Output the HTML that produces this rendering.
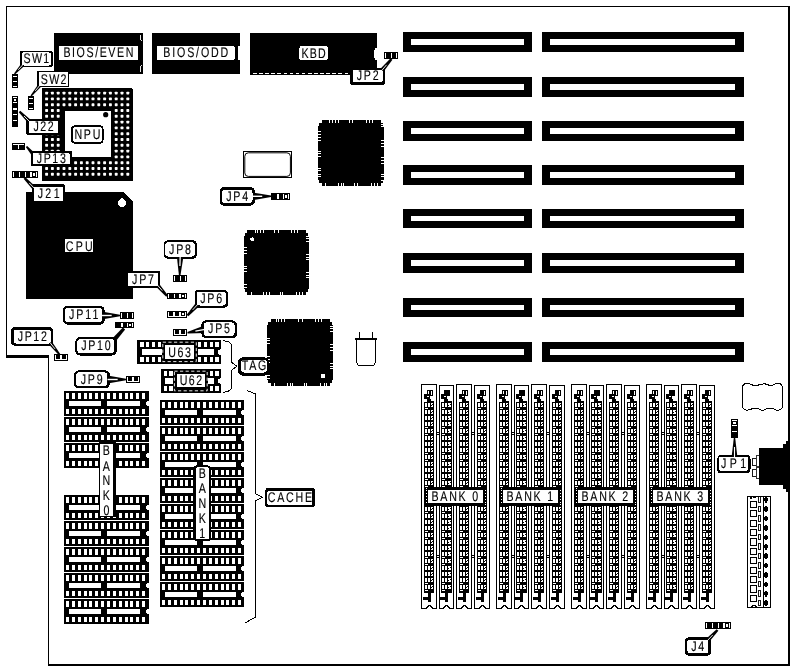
<!DOCTYPE html>
<html><head><meta charset="utf-8"><title>Motherboard layout</title>
<style>
html,body{margin:0;padding:0;background:#fff;}
body{width:795px;height:670px;overflow:hidden;}
svg{display:block;font-family:"Liberation Sans",sans-serif;}
</style></head><body>
<svg width="795" height="670" viewBox="0 0 795 670" shape-rendering="crispEdges" text-rendering="geometricPrecision">
<rect width="795" height="670" fill="#fff"/>
<polygon points="6.5,6.5 789.5,6.5 789.5,664.8 48.5,664.8 48.5,356 6.5,356" fill="none" stroke="#000" stroke-width="1.4"/>
<line x1="789.30" y1="6.00" x2="789.30" y2="665.00" stroke="#000" stroke-width="2" />
<line x1="48.00" y1="664.80" x2="790.00" y2="664.80" stroke="#000" stroke-width="1.8" />
<rect x="6.00" y="355.20" width="43.00" height="2.60" fill="#000" />
<rect x="403.00" y="32.00" width="129.00" height="20.00" fill="#000" />
<rect x="411.00" y="39.00" width="113.00" height="6.00" fill="#fff" />
<rect x="542.00" y="32.00" width="202.00" height="20.00" fill="#000" />
<rect x="550.00" y="39.00" width="185.00" height="6.00" fill="#fff" />
<rect x="403.00" y="77.00" width="129.00" height="20.00" fill="#000" />
<rect x="411.00" y="84.00" width="113.00" height="6.00" fill="#fff" />
<rect x="542.00" y="77.00" width="202.00" height="20.00" fill="#000" />
<rect x="550.00" y="84.00" width="185.00" height="6.00" fill="#fff" />
<rect x="403.00" y="121.00" width="129.00" height="20.00" fill="#000" />
<rect x="411.00" y="128.00" width="113.00" height="6.00" fill="#fff" />
<rect x="542.00" y="121.00" width="202.00" height="20.00" fill="#000" />
<rect x="550.00" y="128.00" width="185.00" height="6.00" fill="#fff" />
<rect x="403.00" y="165.00" width="129.00" height="20.00" fill="#000" />
<rect x="411.00" y="172.00" width="113.00" height="6.00" fill="#fff" />
<rect x="542.00" y="165.00" width="202.00" height="20.00" fill="#000" />
<rect x="550.00" y="172.00" width="185.00" height="6.00" fill="#fff" />
<rect x="403.00" y="209.00" width="129.00" height="19.00" fill="#000" />
<rect x="411.00" y="216.00" width="113.00" height="5.00" fill="#fff" />
<rect x="542.00" y="209.00" width="202.00" height="19.00" fill="#000" />
<rect x="550.00" y="216.00" width="185.00" height="5.00" fill="#fff" />
<rect x="403.00" y="253.00" width="129.00" height="20.00" fill="#000" />
<rect x="411.00" y="260.00" width="113.00" height="6.00" fill="#fff" />
<rect x="542.00" y="253.00" width="202.00" height="20.00" fill="#000" />
<rect x="550.00" y="260.00" width="185.00" height="6.00" fill="#fff" />
<rect x="403.00" y="298.00" width="129.00" height="19.00" fill="#000" />
<rect x="411.00" y="305.00" width="113.00" height="5.00" fill="#fff" />
<rect x="542.00" y="298.00" width="202.00" height="19.00" fill="#000" />
<rect x="550.00" y="305.00" width="185.00" height="5.00" fill="#fff" />
<rect x="403.00" y="342.00" width="129.00" height="20.00" fill="#000" />
<rect x="411.00" y="349.00" width="113.00" height="6.00" fill="#fff" />
<rect x="542.00" y="342.00" width="202.00" height="20.00" fill="#000" />
<rect x="550.00" y="349.00" width="185.00" height="6.00" fill="#fff" />
<rect x="54.00" y="33.00" width="89.00" height="41.00" fill="#000" />
<rect x="58.90" y="46.00" width="79.00" height="14.00" fill="#fff" rx="1.5"/>
<path d="M140.6,35 L140.6,40 L141.6,41 M141.6,64.5 L140.6,65.5 L140.6,72" stroke="#fff" stroke-width="0.9" fill="none"/>
<rect x="152.00" y="33.00" width="88.00" height="41.00" fill="#000" />
<rect x="157.00" y="46.00" width="77.70" height="14.00" fill="#fff" rx="1.5"/>
<rect x="238.00" y="46.00" width="2.10" height="14.00" fill="#fff" />
<rect x="250.00" y="33.00" width="127.00" height="42.00" fill="#000" />
<rect x="253.00" y="73.00" width="3.60" height="1.00" fill="#fff" />
<rect x="259.10" y="73.00" width="3.60" height="1.00" fill="#fff" />
<rect x="265.20" y="73.00" width="3.60" height="1.00" fill="#fff" />
<rect x="271.30" y="73.00" width="3.60" height="1.00" fill="#fff" />
<rect x="277.40" y="73.00" width="3.60" height="1.00" fill="#fff" />
<rect x="283.50" y="73.00" width="3.60" height="1.00" fill="#fff" />
<rect x="289.60" y="73.00" width="3.60" height="1.00" fill="#fff" />
<rect x="295.70" y="73.00" width="3.60" height="1.00" fill="#fff" />
<rect x="301.80" y="73.00" width="3.60" height="1.00" fill="#fff" />
<rect x="307.90" y="73.00" width="3.60" height="1.00" fill="#fff" />
<rect x="314.00" y="73.00" width="3.60" height="1.00" fill="#fff" />
<rect x="320.10" y="73.00" width="3.60" height="1.00" fill="#fff" />
<rect x="326.20" y="73.00" width="3.60" height="1.00" fill="#fff" />
<rect x="332.30" y="73.00" width="3.60" height="1.00" fill="#fff" />
<rect x="338.40" y="73.00" width="3.60" height="1.00" fill="#fff" />
<rect x="344.50" y="73.00" width="3.60" height="1.00" fill="#fff" />
<path d="M377.1,47.5 L375.3,48.5 L374.3,50 L374.3,57.5 L375.3,59.5 L377.1,60.5 Z" fill="#fff"/>
<rect x="299.40" y="46.00" width="28.40" height="14.40" fill="#fff" rx="2.5"/>
<path d="M42.2,88.2 H131 Q133.2,88.2 133.2,90.4 V180.5 H42.2 Z" fill="#000"/>
<rect x="45.15" y="91.65" width="2.9" height="2.9" rx="0.7" fill="#fff" shape-rendering="geometricPrecision"/>
<rect x="50.95" y="91.65" width="2.9" height="2.9" rx="0.7" fill="#fff" shape-rendering="geometricPrecision"/>
<rect x="56.75" y="91.65" width="2.9" height="2.9" rx="0.7" fill="#fff" shape-rendering="geometricPrecision"/>
<rect x="62.55" y="91.65" width="2.9" height="2.9" rx="0.7" fill="#fff" shape-rendering="geometricPrecision"/>
<rect x="68.35" y="91.65" width="2.9" height="2.9" rx="0.7" fill="#fff" shape-rendering="geometricPrecision"/>
<rect x="74.15" y="91.65" width="2.9" height="2.9" rx="0.7" fill="#fff" shape-rendering="geometricPrecision"/>
<rect x="79.95" y="91.65" width="2.9" height="2.9" rx="0.7" fill="#fff" shape-rendering="geometricPrecision"/>
<rect x="85.75" y="91.65" width="2.9" height="2.9" rx="0.7" fill="#fff" shape-rendering="geometricPrecision"/>
<rect x="91.55" y="91.65" width="2.9" height="2.9" rx="0.7" fill="#fff" shape-rendering="geometricPrecision"/>
<rect x="97.35" y="91.65" width="2.9" height="2.9" rx="0.7" fill="#fff" shape-rendering="geometricPrecision"/>
<rect x="103.15" y="91.65" width="2.9" height="2.9" rx="0.7" fill="#fff" shape-rendering="geometricPrecision"/>
<rect x="108.95" y="91.65" width="2.9" height="2.9" rx="0.7" fill="#fff" shape-rendering="geometricPrecision"/>
<rect x="114.75" y="91.65" width="2.9" height="2.9" rx="0.7" fill="#fff" shape-rendering="geometricPrecision"/>
<rect x="120.55" y="91.65" width="2.9" height="2.9" rx="0.7" fill="#fff" shape-rendering="geometricPrecision"/>
<rect x="126.35" y="91.65" width="2.9" height="2.9" rx="0.7" fill="#fff" shape-rendering="geometricPrecision"/>
<rect x="45.15" y="97.45" width="2.9" height="2.9" rx="0.7" fill="#fff" shape-rendering="geometricPrecision"/>
<rect x="50.95" y="97.45" width="2.9" height="2.9" rx="0.7" fill="#fff" shape-rendering="geometricPrecision"/>
<rect x="56.75" y="97.45" width="2.9" height="2.9" rx="0.7" fill="#fff" shape-rendering="geometricPrecision"/>
<rect x="62.55" y="97.45" width="2.9" height="2.9" rx="0.7" fill="#fff" shape-rendering="geometricPrecision"/>
<rect x="68.35" y="97.45" width="2.9" height="2.9" rx="0.7" fill="#fff" shape-rendering="geometricPrecision"/>
<rect x="74.15" y="97.45" width="2.9" height="2.9" rx="0.7" fill="#fff" shape-rendering="geometricPrecision"/>
<rect x="79.95" y="97.45" width="2.9" height="2.9" rx="0.7" fill="#fff" shape-rendering="geometricPrecision"/>
<rect x="85.75" y="97.45" width="2.9" height="2.9" rx="0.7" fill="#fff" shape-rendering="geometricPrecision"/>
<rect x="91.55" y="97.45" width="2.9" height="2.9" rx="0.7" fill="#fff" shape-rendering="geometricPrecision"/>
<rect x="97.35" y="97.45" width="2.9" height="2.9" rx="0.7" fill="#fff" shape-rendering="geometricPrecision"/>
<rect x="103.15" y="97.45" width="2.9" height="2.9" rx="0.7" fill="#fff" shape-rendering="geometricPrecision"/>
<rect x="108.95" y="97.45" width="2.9" height="2.9" rx="0.7" fill="#fff" shape-rendering="geometricPrecision"/>
<rect x="114.75" y="97.45" width="2.9" height="2.9" rx="0.7" fill="#fff" shape-rendering="geometricPrecision"/>
<rect x="120.55" y="97.45" width="2.9" height="2.9" rx="0.7" fill="#fff" shape-rendering="geometricPrecision"/>
<rect x="126.35" y="97.45" width="2.9" height="2.9" rx="0.7" fill="#fff" shape-rendering="geometricPrecision"/>
<rect x="45.15" y="103.25" width="2.9" height="2.9" rx="0.7" fill="#fff" shape-rendering="geometricPrecision"/>
<rect x="50.95" y="103.25" width="2.9" height="2.9" rx="0.7" fill="#fff" shape-rendering="geometricPrecision"/>
<rect x="56.75" y="103.25" width="2.9" height="2.9" rx="0.7" fill="#fff" shape-rendering="geometricPrecision"/>
<rect x="62.55" y="103.25" width="2.9" height="2.9" rx="0.7" fill="#fff" shape-rendering="geometricPrecision"/>
<rect x="68.35" y="103.25" width="2.9" height="2.9" rx="0.7" fill="#fff" shape-rendering="geometricPrecision"/>
<rect x="74.15" y="103.25" width="2.9" height="2.9" rx="0.7" fill="#fff" shape-rendering="geometricPrecision"/>
<rect x="79.95" y="103.25" width="2.9" height="2.9" rx="0.7" fill="#fff" shape-rendering="geometricPrecision"/>
<rect x="85.75" y="103.25" width="2.9" height="2.9" rx="0.7" fill="#fff" shape-rendering="geometricPrecision"/>
<rect x="91.55" y="103.25" width="2.9" height="2.9" rx="0.7" fill="#fff" shape-rendering="geometricPrecision"/>
<rect x="97.35" y="103.25" width="2.9" height="2.9" rx="0.7" fill="#fff" shape-rendering="geometricPrecision"/>
<rect x="103.15" y="103.25" width="2.9" height="2.9" rx="0.7" fill="#fff" shape-rendering="geometricPrecision"/>
<rect x="108.95" y="103.25" width="2.9" height="2.9" rx="0.7" fill="#fff" shape-rendering="geometricPrecision"/>
<rect x="114.75" y="103.25" width="2.9" height="2.9" rx="0.7" fill="#fff" shape-rendering="geometricPrecision"/>
<rect x="120.55" y="103.25" width="2.9" height="2.9" rx="0.7" fill="#fff" shape-rendering="geometricPrecision"/>
<rect x="126.35" y="103.25" width="2.9" height="2.9" rx="0.7" fill="#fff" shape-rendering="geometricPrecision"/>
<rect x="45.15" y="109.05" width="2.9" height="2.9" rx="0.7" fill="#fff" shape-rendering="geometricPrecision"/>
<rect x="50.95" y="109.05" width="2.9" height="2.9" rx="0.7" fill="#fff" shape-rendering="geometricPrecision"/>
<rect x="56.75" y="109.05" width="2.9" height="2.9" rx="0.7" fill="#fff" shape-rendering="geometricPrecision"/>
<rect x="114.75" y="109.05" width="2.9" height="2.9" rx="0.7" fill="#fff" shape-rendering="geometricPrecision"/>
<rect x="120.55" y="109.05" width="2.9" height="2.9" rx="0.7" fill="#fff" shape-rendering="geometricPrecision"/>
<rect x="126.35" y="109.05" width="2.9" height="2.9" rx="0.7" fill="#fff" shape-rendering="geometricPrecision"/>
<rect x="45.15" y="114.85" width="2.9" height="2.9" rx="0.7" fill="#fff" shape-rendering="geometricPrecision"/>
<rect x="50.95" y="114.85" width="2.9" height="2.9" rx="0.7" fill="#fff" shape-rendering="geometricPrecision"/>
<rect x="56.75" y="114.85" width="2.9" height="2.9" rx="0.7" fill="#fff" shape-rendering="geometricPrecision"/>
<rect x="114.75" y="114.85" width="2.9" height="2.9" rx="0.7" fill="#fff" shape-rendering="geometricPrecision"/>
<rect x="120.55" y="114.85" width="2.9" height="2.9" rx="0.7" fill="#fff" shape-rendering="geometricPrecision"/>
<rect x="126.35" y="114.85" width="2.9" height="2.9" rx="0.7" fill="#fff" shape-rendering="geometricPrecision"/>
<rect x="45.15" y="120.65" width="2.9" height="2.9" rx="0.7" fill="#fff" shape-rendering="geometricPrecision"/>
<rect x="50.95" y="120.65" width="2.9" height="2.9" rx="0.7" fill="#fff" shape-rendering="geometricPrecision"/>
<rect x="56.75" y="120.65" width="2.9" height="2.9" rx="0.7" fill="#fff" shape-rendering="geometricPrecision"/>
<rect x="114.75" y="120.65" width="2.9" height="2.9" rx="0.7" fill="#fff" shape-rendering="geometricPrecision"/>
<rect x="120.55" y="120.65" width="2.9" height="2.9" rx="0.7" fill="#fff" shape-rendering="geometricPrecision"/>
<rect x="126.35" y="120.65" width="2.9" height="2.9" rx="0.7" fill="#fff" shape-rendering="geometricPrecision"/>
<rect x="45.15" y="126.45" width="2.9" height="2.9" rx="0.7" fill="#fff" shape-rendering="geometricPrecision"/>
<rect x="50.95" y="126.45" width="2.9" height="2.9" rx="0.7" fill="#fff" shape-rendering="geometricPrecision"/>
<rect x="56.75" y="126.45" width="2.9" height="2.9" rx="0.7" fill="#fff" shape-rendering="geometricPrecision"/>
<rect x="114.75" y="126.45" width="2.9" height="2.9" rx="0.7" fill="#fff" shape-rendering="geometricPrecision"/>
<rect x="120.55" y="126.45" width="2.9" height="2.9" rx="0.7" fill="#fff" shape-rendering="geometricPrecision"/>
<rect x="126.35" y="126.45" width="2.9" height="2.9" rx="0.7" fill="#fff" shape-rendering="geometricPrecision"/>
<rect x="45.15" y="132.25" width="2.9" height="2.9" rx="0.7" fill="#fff" shape-rendering="geometricPrecision"/>
<rect x="50.95" y="132.25" width="2.9" height="2.9" rx="0.7" fill="#fff" shape-rendering="geometricPrecision"/>
<rect x="56.75" y="132.25" width="2.9" height="2.9" rx="0.7" fill="#fff" shape-rendering="geometricPrecision"/>
<rect x="114.75" y="132.25" width="2.9" height="2.9" rx="0.7" fill="#fff" shape-rendering="geometricPrecision"/>
<rect x="120.55" y="132.25" width="2.9" height="2.9" rx="0.7" fill="#fff" shape-rendering="geometricPrecision"/>
<rect x="126.35" y="132.25" width="2.9" height="2.9" rx="0.7" fill="#fff" shape-rendering="geometricPrecision"/>
<rect x="45.15" y="138.05" width="2.9" height="2.9" rx="0.7" fill="#fff" shape-rendering="geometricPrecision"/>
<rect x="50.95" y="138.05" width="2.9" height="2.9" rx="0.7" fill="#fff" shape-rendering="geometricPrecision"/>
<rect x="56.75" y="138.05" width="2.9" height="2.9" rx="0.7" fill="#fff" shape-rendering="geometricPrecision"/>
<rect x="114.75" y="138.05" width="2.9" height="2.9" rx="0.7" fill="#fff" shape-rendering="geometricPrecision"/>
<rect x="120.55" y="138.05" width="2.9" height="2.9" rx="0.7" fill="#fff" shape-rendering="geometricPrecision"/>
<rect x="126.35" y="138.05" width="2.9" height="2.9" rx="0.7" fill="#fff" shape-rendering="geometricPrecision"/>
<rect x="45.15" y="143.85" width="2.9" height="2.9" rx="0.7" fill="#fff" shape-rendering="geometricPrecision"/>
<rect x="50.95" y="143.85" width="2.9" height="2.9" rx="0.7" fill="#fff" shape-rendering="geometricPrecision"/>
<rect x="56.75" y="143.85" width="2.9" height="2.9" rx="0.7" fill="#fff" shape-rendering="geometricPrecision"/>
<rect x="114.75" y="143.85" width="2.9" height="2.9" rx="0.7" fill="#fff" shape-rendering="geometricPrecision"/>
<rect x="120.55" y="143.85" width="2.9" height="2.9" rx="0.7" fill="#fff" shape-rendering="geometricPrecision"/>
<rect x="126.35" y="143.85" width="2.9" height="2.9" rx="0.7" fill="#fff" shape-rendering="geometricPrecision"/>
<rect x="45.15" y="149.65" width="2.9" height="2.9" rx="0.7" fill="#fff" shape-rendering="geometricPrecision"/>
<rect x="50.95" y="149.65" width="2.9" height="2.9" rx="0.7" fill="#fff" shape-rendering="geometricPrecision"/>
<rect x="56.75" y="149.65" width="2.9" height="2.9" rx="0.7" fill="#fff" shape-rendering="geometricPrecision"/>
<rect x="114.75" y="149.65" width="2.9" height="2.9" rx="0.7" fill="#fff" shape-rendering="geometricPrecision"/>
<rect x="120.55" y="149.65" width="2.9" height="2.9" rx="0.7" fill="#fff" shape-rendering="geometricPrecision"/>
<rect x="126.35" y="149.65" width="2.9" height="2.9" rx="0.7" fill="#fff" shape-rendering="geometricPrecision"/>
<rect x="45.15" y="155.45" width="2.9" height="2.9" rx="0.7" fill="#fff" shape-rendering="geometricPrecision"/>
<rect x="50.95" y="155.45" width="2.9" height="2.9" rx="0.7" fill="#fff" shape-rendering="geometricPrecision"/>
<rect x="56.75" y="155.45" width="2.9" height="2.9" rx="0.7" fill="#fff" shape-rendering="geometricPrecision"/>
<rect x="114.75" y="155.45" width="2.9" height="2.9" rx="0.7" fill="#fff" shape-rendering="geometricPrecision"/>
<rect x="120.55" y="155.45" width="2.9" height="2.9" rx="0.7" fill="#fff" shape-rendering="geometricPrecision"/>
<rect x="126.35" y="155.45" width="2.9" height="2.9" rx="0.7" fill="#fff" shape-rendering="geometricPrecision"/>
<rect x="45.15" y="161.25" width="2.9" height="2.9" rx="0.7" fill="#fff" shape-rendering="geometricPrecision"/>
<rect x="50.95" y="161.25" width="2.9" height="2.9" rx="0.7" fill="#fff" shape-rendering="geometricPrecision"/>
<rect x="56.75" y="161.25" width="2.9" height="2.9" rx="0.7" fill="#fff" shape-rendering="geometricPrecision"/>
<rect x="62.55" y="161.25" width="2.9" height="2.9" rx="0.7" fill="#fff" shape-rendering="geometricPrecision"/>
<rect x="68.35" y="161.25" width="2.9" height="2.9" rx="0.7" fill="#fff" shape-rendering="geometricPrecision"/>
<rect x="74.15" y="161.25" width="2.9" height="2.9" rx="0.7" fill="#fff" shape-rendering="geometricPrecision"/>
<rect x="79.95" y="161.25" width="2.9" height="2.9" rx="0.7" fill="#fff" shape-rendering="geometricPrecision"/>
<rect x="85.75" y="161.25" width="2.9" height="2.9" rx="0.7" fill="#fff" shape-rendering="geometricPrecision"/>
<rect x="91.55" y="161.25" width="2.9" height="2.9" rx="0.7" fill="#fff" shape-rendering="geometricPrecision"/>
<rect x="97.35" y="161.25" width="2.9" height="2.9" rx="0.7" fill="#fff" shape-rendering="geometricPrecision"/>
<rect x="103.15" y="161.25" width="2.9" height="2.9" rx="0.7" fill="#fff" shape-rendering="geometricPrecision"/>
<rect x="108.95" y="161.25" width="2.9" height="2.9" rx="0.7" fill="#fff" shape-rendering="geometricPrecision"/>
<rect x="114.75" y="161.25" width="2.9" height="2.9" rx="0.7" fill="#fff" shape-rendering="geometricPrecision"/>
<rect x="120.55" y="161.25" width="2.9" height="2.9" rx="0.7" fill="#fff" shape-rendering="geometricPrecision"/>
<rect x="126.35" y="161.25" width="2.9" height="2.9" rx="0.7" fill="#fff" shape-rendering="geometricPrecision"/>
<rect x="45.15" y="167.05" width="2.9" height="2.9" rx="0.7" fill="#fff" shape-rendering="geometricPrecision"/>
<rect x="50.95" y="167.05" width="2.9" height="2.9" rx="0.7" fill="#fff" shape-rendering="geometricPrecision"/>
<rect x="56.75" y="167.05" width="2.9" height="2.9" rx="0.7" fill="#fff" shape-rendering="geometricPrecision"/>
<rect x="62.55" y="167.05" width="2.9" height="2.9" rx="0.7" fill="#fff" shape-rendering="geometricPrecision"/>
<rect x="68.35" y="167.05" width="2.9" height="2.9" rx="0.7" fill="#fff" shape-rendering="geometricPrecision"/>
<rect x="74.15" y="167.05" width="2.9" height="2.9" rx="0.7" fill="#fff" shape-rendering="geometricPrecision"/>
<rect x="79.95" y="167.05" width="2.9" height="2.9" rx="0.7" fill="#fff" shape-rendering="geometricPrecision"/>
<rect x="85.75" y="167.05" width="2.9" height="2.9" rx="0.7" fill="#fff" shape-rendering="geometricPrecision"/>
<rect x="91.55" y="167.05" width="2.9" height="2.9" rx="0.7" fill="#fff" shape-rendering="geometricPrecision"/>
<rect x="97.35" y="167.05" width="2.9" height="2.9" rx="0.7" fill="#fff" shape-rendering="geometricPrecision"/>
<rect x="103.15" y="167.05" width="2.9" height="2.9" rx="0.7" fill="#fff" shape-rendering="geometricPrecision"/>
<rect x="108.95" y="167.05" width="2.9" height="2.9" rx="0.7" fill="#fff" shape-rendering="geometricPrecision"/>
<rect x="114.75" y="167.05" width="2.9" height="2.9" rx="0.7" fill="#fff" shape-rendering="geometricPrecision"/>
<rect x="120.55" y="167.05" width="2.9" height="2.9" rx="0.7" fill="#fff" shape-rendering="geometricPrecision"/>
<rect x="126.35" y="167.05" width="2.9" height="2.9" rx="0.7" fill="#fff" shape-rendering="geometricPrecision"/>
<rect x="45.15" y="172.85" width="2.9" height="2.9" rx="0.7" fill="#fff" shape-rendering="geometricPrecision"/>
<rect x="50.95" y="172.85" width="2.9" height="2.9" rx="0.7" fill="#fff" shape-rendering="geometricPrecision"/>
<rect x="56.75" y="172.85" width="2.9" height="2.9" rx="0.7" fill="#fff" shape-rendering="geometricPrecision"/>
<rect x="62.55" y="172.85" width="2.9" height="2.9" rx="0.7" fill="#fff" shape-rendering="geometricPrecision"/>
<rect x="68.35" y="172.85" width="2.9" height="2.9" rx="0.7" fill="#fff" shape-rendering="geometricPrecision"/>
<rect x="74.15" y="172.85" width="2.9" height="2.9" rx="0.7" fill="#fff" shape-rendering="geometricPrecision"/>
<rect x="79.95" y="172.85" width="2.9" height="2.9" rx="0.7" fill="#fff" shape-rendering="geometricPrecision"/>
<rect x="85.75" y="172.85" width="2.9" height="2.9" rx="0.7" fill="#fff" shape-rendering="geometricPrecision"/>
<rect x="91.55" y="172.85" width="2.9" height="2.9" rx="0.7" fill="#fff" shape-rendering="geometricPrecision"/>
<rect x="97.35" y="172.85" width="2.9" height="2.9" rx="0.7" fill="#fff" shape-rendering="geometricPrecision"/>
<rect x="103.15" y="172.85" width="2.9" height="2.9" rx="0.7" fill="#fff" shape-rendering="geometricPrecision"/>
<rect x="108.95" y="172.85" width="2.9" height="2.9" rx="0.7" fill="#fff" shape-rendering="geometricPrecision"/>
<rect x="114.75" y="172.85" width="2.9" height="2.9" rx="0.7" fill="#fff" shape-rendering="geometricPrecision"/>
<rect x="120.55" y="172.85" width="2.9" height="2.9" rx="0.7" fill="#fff" shape-rendering="geometricPrecision"/>
<rect x="126.35" y="172.85" width="2.9" height="2.9" rx="0.7" fill="#fff" shape-rendering="geometricPrecision"/>
<rect x="65.00" y="111.00" width="45.60" height="46.30" fill="#fff" />
<circle cx="105.7" cy="114.7" r="2.6" fill="#000" shape-rendering="geometricPrecision"/>
<rect x="71.2" y="125.3" width="32.4" height="18.4" rx="4" fill="#000"/>
<rect x="73" y="127.1" width="28.8" height="14.8" rx="2.5" fill="#fff"/>
<polygon points="26.4,192 123.5,192 133.2,201.7 133.2,299 26.4,299" fill="#000"/>
<path d="M122,197.4 L125,200.2 A4,4 0 1 1 119,200.2 Z" fill="#fff"/>
<rect x="64.90" y="239.00" width="28.20" height="13.00" fill="#fff" />
<polygon points="321.5,120.0 380.5,120.0 380.5,123.0 383.0,123.0 383.0,126.0 384.0,126.0 384.0,180.0 383.0,180.0 383.0,183.0 380.5,183.0 380.5,186.0 321.5,186.0 321.5,183.0 319.0,183.0 319.0,180.0 318.0,180.0 318.0,126.0 319.0,126.0 319.0,123.0 321.5,123.0" fill="#000"/>
<rect x="329.38" y="119.90" width="1.00" height="3.10" fill="#fff" />
<rect x="332.02" y="119.90" width="1.00" height="3.10" fill="#fff" />
<rect x="334.66" y="119.90" width="1.00" height="3.10" fill="#fff" />
<rect x="337.96" y="119.90" width="1.00" height="3.10" fill="#fff" />
<rect x="349.18" y="119.90" width="1.00" height="3.10" fill="#fff" />
<rect x="352.48" y="119.90" width="1.00" height="3.10" fill="#fff" />
<rect x="365.68" y="119.90" width="1.00" height="3.10" fill="#fff" />
<rect x="368.98" y="119.90" width="1.00" height="3.10" fill="#fff" />
<rect x="371.62" y="119.90" width="1.00" height="3.10" fill="#fff" />
<rect x="325.42" y="183.00" width="1.00" height="3.10" fill="#fff" />
<rect x="337.96" y="183.00" width="1.00" height="3.10" fill="#fff" />
<rect x="340.60" y="183.00" width="1.00" height="3.10" fill="#fff" />
<rect x="343.24" y="183.00" width="1.00" height="3.10" fill="#fff" />
<rect x="354.46" y="183.00" width="1.00" height="3.10" fill="#fff" />
<rect x="357.10" y="183.00" width="1.00" height="3.10" fill="#fff" />
<rect x="370.96" y="183.00" width="1.00" height="3.10" fill="#fff" />
<rect x="374.26" y="183.00" width="1.00" height="3.10" fill="#fff" />
<rect x="376.90" y="183.00" width="1.00" height="3.10" fill="#fff" />
<rect x="317.90" y="131.38" width="3.10" height="1.00" fill="#fff" />
<rect x="317.90" y="134.02" width="3.10" height="1.00" fill="#fff" />
<rect x="317.90" y="137.32" width="3.10" height="1.00" fill="#fff" />
<rect x="317.90" y="139.96" width="3.10" height="1.00" fill="#fff" />
<rect x="317.90" y="150.52" width="3.10" height="1.00" fill="#fff" />
<rect x="317.90" y="153.16" width="3.10" height="1.00" fill="#fff" />
<rect x="317.90" y="156.46" width="3.10" height="1.00" fill="#fff" />
<rect x="317.90" y="167.68" width="3.10" height="1.00" fill="#fff" />
<rect x="317.90" y="170.32" width="3.10" height="1.00" fill="#fff" />
<rect x="317.90" y="173.62" width="3.10" height="1.00" fill="#fff" />
<rect x="317.90" y="176.26" width="3.10" height="1.00" fill="#fff" />
<rect x="381.00" y="124.12" width="3.10" height="1.00" fill="#fff" />
<rect x="381.00" y="126.10" width="3.10" height="1.00" fill="#fff" />
<rect x="381.00" y="139.96" width="3.10" height="1.00" fill="#fff" />
<rect x="381.00" y="143.26" width="3.10" height="1.00" fill="#fff" />
<rect x="381.00" y="145.90" width="3.10" height="1.00" fill="#fff" />
<rect x="381.00" y="157.12" width="3.10" height="1.00" fill="#fff" />
<rect x="381.00" y="159.76" width="3.10" height="1.00" fill="#fff" />
<rect x="381.00" y="163.06" width="3.10" height="1.00" fill="#fff" />
<rect x="381.00" y="173.62" width="3.10" height="1.00" fill="#fff" />
<rect x="381.00" y="176.26" width="3.10" height="1.00" fill="#fff" />
<rect x="381.00" y="179.56" width="3.10" height="1.00" fill="#fff" />
<polygon points="247.0,229.5 305.5,229.5 305.5,232.5 308.0,232.5 308.0,235.5 309.0,235.5 309.0,289.0 308.0,289.0 308.0,292.0 305.5,292.0 305.5,295.0 247.0,295.0 247.0,292.0 244.5,292.0 244.5,289.0 243.5,289.0 243.5,235.5 244.5,235.5 244.5,232.5 247.0,232.5" fill="#000"/>
<rect x="254.79" y="229.40" width="1.00" height="3.10" fill="#fff" />
<rect x="257.41" y="229.40" width="1.00" height="3.10" fill="#fff" />
<rect x="260.03" y="229.40" width="1.00" height="3.10" fill="#fff" />
<rect x="263.31" y="229.40" width="1.00" height="3.10" fill="#fff" />
<rect x="274.44" y="229.40" width="1.00" height="3.10" fill="#fff" />
<rect x="277.72" y="229.40" width="1.00" height="3.10" fill="#fff" />
<rect x="290.81" y="229.40" width="1.00" height="3.10" fill="#fff" />
<rect x="294.09" y="229.40" width="1.00" height="3.10" fill="#fff" />
<rect x="296.71" y="229.40" width="1.00" height="3.10" fill="#fff" />
<rect x="250.86" y="292.00" width="1.00" height="3.10" fill="#fff" />
<rect x="263.31" y="292.00" width="1.00" height="3.10" fill="#fff" />
<rect x="265.93" y="292.00" width="1.00" height="3.10" fill="#fff" />
<rect x="268.55" y="292.00" width="1.00" height="3.10" fill="#fff" />
<rect x="279.68" y="292.00" width="1.00" height="3.10" fill="#fff" />
<rect x="282.30" y="292.00" width="1.00" height="3.10" fill="#fff" />
<rect x="296.06" y="292.00" width="1.00" height="3.10" fill="#fff" />
<rect x="299.33" y="292.00" width="1.00" height="3.10" fill="#fff" />
<rect x="301.95" y="292.00" width="1.00" height="3.10" fill="#fff" />
<rect x="243.40" y="247.34" width="3.10" height="1.00" fill="#fff" />
<rect x="243.40" y="249.96" width="3.10" height="1.00" fill="#fff" />
<rect x="243.40" y="252.58" width="3.10" height="1.00" fill="#fff" />
<rect x="243.40" y="265.68" width="3.10" height="1.00" fill="#fff" />
<rect x="243.40" y="268.30" width="3.10" height="1.00" fill="#fff" />
<rect x="243.40" y="270.92" width="3.10" height="1.00" fill="#fff" />
<rect x="243.40" y="284.02" width="3.10" height="1.00" fill="#fff" />
<rect x="243.40" y="286.64" width="3.10" height="1.00" fill="#fff" />
<rect x="306.00" y="235.55" width="3.10" height="1.00" fill="#fff" />
<rect x="306.00" y="238.17" width="3.10" height="1.00" fill="#fff" />
<rect x="306.00" y="240.79" width="3.10" height="1.00" fill="#fff" />
<rect x="306.00" y="253.89" width="3.10" height="1.00" fill="#fff" />
<rect x="306.00" y="256.51" width="3.10" height="1.00" fill="#fff" />
<rect x="306.00" y="259.13" width="3.10" height="1.00" fill="#fff" />
<rect x="306.00" y="272.23" width="3.10" height="1.00" fill="#fff" />
<rect x="306.00" y="274.85" width="3.10" height="1.00" fill="#fff" />
<rect x="306.00" y="277.47" width="3.10" height="1.00" fill="#fff" />
<circle cx="252.2" cy="239.4" r="2" fill="#fff"/>
<polygon points="270.5,319.4 329.9,319.4 329.9,322.4 332.4,322.4 332.4,325.4 333.4,325.4 333.4,380.2 332.4,380.2 332.4,383.2 329.9,383.2 329.9,386.2 270.5,386.2 270.5,383.2 268.0,383.2 268.0,380.2 267.0,380.2 267.0,325.4 268.0,325.4 268.0,322.4 270.5,322.4" fill="#000"/>
<rect x="275.80" y="319.30" width="1.00" height="3.10" fill="#fff" />
<rect x="278.45" y="319.30" width="1.00" height="3.10" fill="#fff" />
<rect x="281.11" y="319.30" width="1.00" height="3.10" fill="#fff" />
<rect x="283.76" y="319.30" width="1.00" height="3.10" fill="#fff" />
<rect x="298.37" y="319.30" width="1.00" height="3.10" fill="#fff" />
<rect x="301.69" y="319.30" width="1.00" height="3.10" fill="#fff" />
<rect x="314.97" y="319.30" width="1.00" height="3.10" fill="#fff" />
<rect x="318.29" y="319.30" width="1.00" height="3.10" fill="#fff" />
<rect x="320.95" y="319.30" width="1.00" height="3.10" fill="#fff" />
<rect x="274.47" y="383.20" width="1.00" height="3.10" fill="#fff" />
<rect x="287.08" y="383.20" width="1.00" height="3.10" fill="#fff" />
<rect x="289.74" y="383.20" width="1.00" height="3.10" fill="#fff" />
<rect x="292.40" y="383.20" width="1.00" height="3.10" fill="#fff" />
<rect x="303.68" y="383.20" width="1.00" height="3.10" fill="#fff" />
<rect x="306.34" y="383.20" width="1.00" height="3.10" fill="#fff" />
<rect x="320.28" y="383.20" width="1.00" height="3.10" fill="#fff" />
<rect x="323.60" y="383.20" width="1.00" height="3.10" fill="#fff" />
<rect x="326.26" y="383.20" width="1.00" height="3.10" fill="#fff" />
<rect x="266.90" y="337.60" width="3.10" height="1.00" fill="#fff" />
<rect x="266.90" y="340.28" width="3.10" height="1.00" fill="#fff" />
<rect x="266.90" y="342.95" width="3.10" height="1.00" fill="#fff" />
<rect x="266.90" y="356.31" width="3.10" height="1.00" fill="#fff" />
<rect x="266.90" y="358.98" width="3.10" height="1.00" fill="#fff" />
<rect x="266.90" y="361.65" width="3.10" height="1.00" fill="#fff" />
<rect x="266.90" y="375.01" width="3.10" height="1.00" fill="#fff" />
<rect x="266.90" y="377.68" width="3.10" height="1.00" fill="#fff" />
<rect x="330.40" y="325.58" width="3.10" height="1.00" fill="#fff" />
<rect x="330.40" y="328.25" width="3.10" height="1.00" fill="#fff" />
<rect x="330.40" y="330.92" width="3.10" height="1.00" fill="#fff" />
<rect x="330.40" y="344.28" width="3.10" height="1.00" fill="#fff" />
<rect x="330.40" y="346.96" width="3.10" height="1.00" fill="#fff" />
<rect x="330.40" y="349.63" width="3.10" height="1.00" fill="#fff" />
<rect x="330.40" y="362.99" width="3.10" height="1.00" fill="#fff" />
<rect x="330.40" y="365.66" width="3.10" height="1.00" fill="#fff" />
<rect x="330.40" y="368.33" width="3.10" height="1.00" fill="#fff" />
<rect x="321.20" y="373.80" width="4.00" height="4.00" fill="#fff" />
<rect x="243.8" y="151.8" width="47.6" height="25.6" fill="#fff" stroke="#000" stroke-width="1"/>
<rect x="244.8" y="152.8" width="45.6" height="23.6" rx="3.5" fill="none" stroke="#000" stroke-width="1" shape-rendering="geometricPrecision"/>
<rect x="359.00" y="332.00" width="1.00" height="6.00" fill="#000" />
<rect x="372.00" y="332.00" width="1.00" height="6.00" fill="#000" />
<rect x="355.00" y="338.00" width="22.00" height="2.00" fill="#000" />
<path d="M356.5,340 V362.5 L358.5,365.5 H373.5 L375.5,362.5 V340" fill="none" stroke="#000" stroke-width="1"/>
<rect x="137.00" y="340.40" width="83.80" height="23.10" fill="#000" />
<rect x="140.30" y="342.40" width="3.40" height="4.60" fill="#fff" />
<rect x="140.30" y="356.90" width="3.40" height="4.60" fill="#fff" />
<rect x="146.07" y="342.40" width="3.40" height="4.60" fill="#fff" />
<rect x="146.07" y="356.90" width="3.40" height="4.60" fill="#fff" />
<rect x="151.84" y="342.40" width="3.40" height="4.60" fill="#fff" />
<rect x="151.84" y="356.90" width="3.40" height="4.60" fill="#fff" />
<rect x="157.61" y="342.40" width="3.40" height="4.60" fill="#fff" />
<rect x="157.61" y="356.90" width="3.40" height="4.60" fill="#fff" />
<rect x="163.38" y="342.40" width="3.40" height="4.60" fill="#fff" />
<rect x="163.38" y="356.90" width="3.40" height="4.60" fill="#fff" />
<rect x="169.15" y="342.40" width="3.40" height="4.60" fill="#fff" />
<rect x="169.15" y="356.90" width="3.40" height="4.60" fill="#fff" />
<rect x="174.92" y="342.40" width="3.40" height="4.60" fill="#fff" />
<rect x="174.92" y="356.90" width="3.40" height="4.60" fill="#fff" />
<rect x="180.69" y="342.40" width="3.40" height="4.60" fill="#fff" />
<rect x="180.69" y="356.90" width="3.40" height="4.60" fill="#fff" />
<rect x="186.46" y="342.40" width="3.40" height="4.60" fill="#fff" />
<rect x="186.46" y="356.90" width="3.40" height="4.60" fill="#fff" />
<rect x="192.23" y="342.40" width="3.40" height="4.60" fill="#fff" />
<rect x="192.23" y="356.90" width="3.40" height="4.60" fill="#fff" />
<rect x="198.00" y="342.40" width="3.40" height="4.60" fill="#fff" />
<rect x="198.00" y="356.90" width="3.40" height="4.60" fill="#fff" />
<rect x="203.77" y="342.40" width="3.40" height="4.60" fill="#fff" />
<rect x="203.77" y="356.90" width="3.40" height="4.60" fill="#fff" />
<rect x="209.54" y="342.40" width="3.40" height="4.60" fill="#fff" />
<rect x="209.54" y="356.90" width="3.40" height="4.60" fill="#fff" />
<rect x="215.31" y="342.40" width="3.40" height="4.60" fill="#fff" />
<rect x="215.31" y="356.90" width="3.40" height="4.60" fill="#fff" />
<rect x="141.80" y="349.00" width="72.00" height="5.80" fill="#fff" />
<polygon points="220.90,348.90 217.60,350.90 217.60,353.40 220.90,355.40" fill="#fff"/>
<rect x="161.60" y="341.00" width="35.90" height="21.90" fill="#000" />
<rect x="162.80" y="342.20" width="33.50" height="19.40" fill="none" stroke="#fff" stroke-width="0.9" stroke-dasharray="3.2,2.4" shape-rendering="geometricPrecision"/>
<rect x="164.80" y="344.50" width="29.60" height="14.50" fill="#fff" />
<rect x="161.00" y="369.30" width="59.80" height="23.20" fill="#000" />
<rect x="163.50" y="371.30" width="3.40" height="4.60" fill="#fff" />
<rect x="163.50" y="385.90" width="3.40" height="4.60" fill="#fff" />
<rect x="169.27" y="371.30" width="3.40" height="4.60" fill="#fff" />
<rect x="169.27" y="385.90" width="3.40" height="4.60" fill="#fff" />
<rect x="175.04" y="371.30" width="3.40" height="4.60" fill="#fff" />
<rect x="175.04" y="385.90" width="3.40" height="4.60" fill="#fff" />
<rect x="180.81" y="371.30" width="3.40" height="4.60" fill="#fff" />
<rect x="180.81" y="385.90" width="3.40" height="4.60" fill="#fff" />
<rect x="186.58" y="371.30" width="3.40" height="4.60" fill="#fff" />
<rect x="186.58" y="385.90" width="3.40" height="4.60" fill="#fff" />
<rect x="192.35" y="371.30" width="3.40" height="4.60" fill="#fff" />
<rect x="192.35" y="385.90" width="3.40" height="4.60" fill="#fff" />
<rect x="198.12" y="371.30" width="3.40" height="4.60" fill="#fff" />
<rect x="198.12" y="385.90" width="3.40" height="4.60" fill="#fff" />
<rect x="203.89" y="371.30" width="3.40" height="4.60" fill="#fff" />
<rect x="203.89" y="385.90" width="3.40" height="4.60" fill="#fff" />
<rect x="209.66" y="371.30" width="3.40" height="4.60" fill="#fff" />
<rect x="209.66" y="385.90" width="3.40" height="4.60" fill="#fff" />
<rect x="215.43" y="371.30" width="3.40" height="4.60" fill="#fff" />
<rect x="215.43" y="385.90" width="3.40" height="4.60" fill="#fff" />
<rect x="165.00" y="377.90" width="48.80" height="5.80" fill="#fff" />
<polygon points="220.90,377.80 217.60,379.80 217.60,382.30 220.90,384.30" fill="#fff"/>
<rect x="173.20" y="369.90" width="35.20" height="22.00" fill="#000" />
<rect x="174.40" y="371.20" width="32.80" height="19.60" fill="none" stroke="#fff" stroke-width="0.9" stroke-dasharray="3.2,2.4" shape-rendering="geometricPrecision"/>
<rect x="176.60" y="373.70" width="28.70" height="13.60" fill="#fff" />
<path d="M222.6,340.6 Q231.8,341.4 231.8,346 V362.5 L236.8,366.3 L231.8,370 V386.5 Q231.8,391.8 222.6,392.4" fill="none" stroke="#000" stroke-width="1"/>
<rect x="238.20" y="357.40" width="31.00" height="18.20" rx="4.5" fill="#000"/>
<rect x="241.20" y="359.60" width="25.60" height="13.00" rx="3.0" fill="#fff"/>
<rect x="64.00" y="391.00" width="85.00" height="25.00" fill="#000" />
<rect x="66.00" y="393.00" width="3.00" height="5.60" fill="#fff" />
<rect x="66.00" y="409.00" width="3.00" height="5.00" fill="#fff" />
<rect x="71.85" y="393.00" width="3.00" height="5.60" fill="#fff" />
<rect x="71.85" y="409.00" width="3.00" height="5.00" fill="#fff" />
<rect x="77.70" y="393.00" width="3.00" height="5.60" fill="#fff" />
<rect x="77.70" y="409.00" width="3.00" height="5.00" fill="#fff" />
<rect x="83.55" y="393.00" width="3.00" height="5.60" fill="#fff" />
<rect x="83.55" y="409.00" width="3.00" height="5.00" fill="#fff" />
<rect x="89.40" y="393.00" width="3.00" height="5.60" fill="#fff" />
<rect x="89.40" y="409.00" width="3.00" height="5.00" fill="#fff" />
<rect x="95.25" y="393.00" width="3.00" height="5.60" fill="#fff" />
<rect x="95.25" y="409.00" width="3.00" height="5.00" fill="#fff" />
<rect x="101.10" y="393.00" width="3.00" height="5.60" fill="#fff" />
<rect x="101.10" y="409.00" width="3.00" height="5.00" fill="#fff" />
<rect x="106.95" y="393.00" width="3.00" height="5.60" fill="#fff" />
<rect x="106.95" y="409.00" width="3.00" height="5.00" fill="#fff" />
<rect x="112.80" y="393.00" width="3.00" height="5.60" fill="#fff" />
<rect x="112.80" y="409.00" width="3.00" height="5.00" fill="#fff" />
<rect x="118.65" y="393.00" width="3.00" height="5.60" fill="#fff" />
<rect x="118.65" y="409.00" width="3.00" height="5.00" fill="#fff" />
<rect x="124.50" y="393.00" width="3.00" height="5.60" fill="#fff" />
<rect x="124.50" y="409.00" width="3.00" height="5.00" fill="#fff" />
<rect x="130.35" y="393.00" width="3.00" height="5.60" fill="#fff" />
<rect x="130.35" y="409.00" width="3.00" height="5.00" fill="#fff" />
<rect x="136.20" y="393.00" width="3.00" height="5.60" fill="#fff" />
<rect x="136.20" y="409.00" width="3.00" height="5.00" fill="#fff" />
<rect x="142.05" y="393.00" width="3.00" height="5.60" fill="#fff" />
<rect x="142.05" y="409.00" width="3.00" height="5.00" fill="#fff" />
<rect x="68.80" y="401.00" width="32.40" height="4.80" fill="#fff" />
<rect x="106.80" y="401.00" width="33.40" height="4.80" fill="#fff" />
<polygon points="149.10,400.50 145.80,402.00 145.80,405.00 149.10,406.50" fill="#fff"/>
<rect x="64.00" y="417.00" width="85.00" height="25.00" fill="#000" />
<rect x="66.00" y="419.00" width="3.00" height="5.60" fill="#fff" />
<rect x="66.00" y="435.00" width="3.00" height="5.00" fill="#fff" />
<rect x="71.85" y="419.00" width="3.00" height="5.60" fill="#fff" />
<rect x="71.85" y="435.00" width="3.00" height="5.00" fill="#fff" />
<rect x="77.70" y="419.00" width="3.00" height="5.60" fill="#fff" />
<rect x="77.70" y="435.00" width="3.00" height="5.00" fill="#fff" />
<rect x="83.55" y="419.00" width="3.00" height="5.60" fill="#fff" />
<rect x="83.55" y="435.00" width="3.00" height="5.00" fill="#fff" />
<rect x="89.40" y="419.00" width="3.00" height="5.60" fill="#fff" />
<rect x="89.40" y="435.00" width="3.00" height="5.00" fill="#fff" />
<rect x="95.25" y="419.00" width="3.00" height="5.60" fill="#fff" />
<rect x="95.25" y="435.00" width="3.00" height="5.00" fill="#fff" />
<rect x="101.10" y="419.00" width="3.00" height="5.60" fill="#fff" />
<rect x="101.10" y="435.00" width="3.00" height="5.00" fill="#fff" />
<rect x="106.95" y="419.00" width="3.00" height="5.60" fill="#fff" />
<rect x="106.95" y="435.00" width="3.00" height="5.00" fill="#fff" />
<rect x="112.80" y="419.00" width="3.00" height="5.60" fill="#fff" />
<rect x="112.80" y="435.00" width="3.00" height="5.00" fill="#fff" />
<rect x="118.65" y="419.00" width="3.00" height="5.60" fill="#fff" />
<rect x="118.65" y="435.00" width="3.00" height="5.00" fill="#fff" />
<rect x="124.50" y="419.00" width="3.00" height="5.60" fill="#fff" />
<rect x="124.50" y="435.00" width="3.00" height="5.00" fill="#fff" />
<rect x="130.35" y="419.00" width="3.00" height="5.60" fill="#fff" />
<rect x="130.35" y="435.00" width="3.00" height="5.00" fill="#fff" />
<rect x="136.20" y="419.00" width="3.00" height="5.60" fill="#fff" />
<rect x="136.20" y="435.00" width="3.00" height="5.00" fill="#fff" />
<rect x="142.05" y="419.00" width="3.00" height="5.60" fill="#fff" />
<rect x="142.05" y="435.00" width="3.00" height="5.00" fill="#fff" />
<rect x="68.80" y="427.00" width="32.40" height="4.80" fill="#fff" />
<rect x="106.80" y="427.00" width="33.40" height="4.80" fill="#fff" />
<polygon points="149.10,426.50 145.80,428.00 145.80,431.00 149.10,432.50" fill="#fff"/>
<rect x="64.00" y="443.00" width="85.00" height="25.00" fill="#000" />
<rect x="66.00" y="445.00" width="3.00" height="5.60" fill="#fff" />
<rect x="66.00" y="461.00" width="3.00" height="5.00" fill="#fff" />
<rect x="71.85" y="445.00" width="3.00" height="5.60" fill="#fff" />
<rect x="71.85" y="461.00" width="3.00" height="5.00" fill="#fff" />
<rect x="77.70" y="445.00" width="3.00" height="5.60" fill="#fff" />
<rect x="77.70" y="461.00" width="3.00" height="5.00" fill="#fff" />
<rect x="83.55" y="445.00" width="3.00" height="5.60" fill="#fff" />
<rect x="83.55" y="461.00" width="3.00" height="5.00" fill="#fff" />
<rect x="89.40" y="445.00" width="3.00" height="5.60" fill="#fff" />
<rect x="89.40" y="461.00" width="3.00" height="5.00" fill="#fff" />
<rect x="95.25" y="445.00" width="3.00" height="5.60" fill="#fff" />
<rect x="95.25" y="461.00" width="3.00" height="5.00" fill="#fff" />
<rect x="101.10" y="445.00" width="3.00" height="5.60" fill="#fff" />
<rect x="101.10" y="461.00" width="3.00" height="5.00" fill="#fff" />
<rect x="106.95" y="445.00" width="3.00" height="5.60" fill="#fff" />
<rect x="106.95" y="461.00" width="3.00" height="5.00" fill="#fff" />
<rect x="112.80" y="445.00" width="3.00" height="5.60" fill="#fff" />
<rect x="112.80" y="461.00" width="3.00" height="5.00" fill="#fff" />
<rect x="118.65" y="445.00" width="3.00" height="5.60" fill="#fff" />
<rect x="118.65" y="461.00" width="3.00" height="5.00" fill="#fff" />
<rect x="124.50" y="445.00" width="3.00" height="5.60" fill="#fff" />
<rect x="124.50" y="461.00" width="3.00" height="5.00" fill="#fff" />
<rect x="130.35" y="445.00" width="3.00" height="5.60" fill="#fff" />
<rect x="130.35" y="461.00" width="3.00" height="5.00" fill="#fff" />
<rect x="136.20" y="445.00" width="3.00" height="5.60" fill="#fff" />
<rect x="136.20" y="461.00" width="3.00" height="5.00" fill="#fff" />
<rect x="142.05" y="445.00" width="3.00" height="5.60" fill="#fff" />
<rect x="142.05" y="461.00" width="3.00" height="5.00" fill="#fff" />
<rect x="68.80" y="453.00" width="32.40" height="4.80" fill="#fff" />
<rect x="106.80" y="453.00" width="33.40" height="4.80" fill="#fff" />
<polygon points="149.10,452.50 145.80,454.00 145.80,457.00 149.10,458.50" fill="#fff"/>
<rect x="64.00" y="495.00" width="85.00" height="25.00" fill="#000" />
<rect x="66.00" y="497.00" width="3.00" height="5.60" fill="#fff" />
<rect x="66.00" y="513.00" width="3.00" height="5.00" fill="#fff" />
<rect x="71.85" y="497.00" width="3.00" height="5.60" fill="#fff" />
<rect x="71.85" y="513.00" width="3.00" height="5.00" fill="#fff" />
<rect x="77.70" y="497.00" width="3.00" height="5.60" fill="#fff" />
<rect x="77.70" y="513.00" width="3.00" height="5.00" fill="#fff" />
<rect x="83.55" y="497.00" width="3.00" height="5.60" fill="#fff" />
<rect x="83.55" y="513.00" width="3.00" height="5.00" fill="#fff" />
<rect x="89.40" y="497.00" width="3.00" height="5.60" fill="#fff" />
<rect x="89.40" y="513.00" width="3.00" height="5.00" fill="#fff" />
<rect x="95.25" y="497.00" width="3.00" height="5.60" fill="#fff" />
<rect x="95.25" y="513.00" width="3.00" height="5.00" fill="#fff" />
<rect x="101.10" y="497.00" width="3.00" height="5.60" fill="#fff" />
<rect x="101.10" y="513.00" width="3.00" height="5.00" fill="#fff" />
<rect x="106.95" y="497.00" width="3.00" height="5.60" fill="#fff" />
<rect x="106.95" y="513.00" width="3.00" height="5.00" fill="#fff" />
<rect x="112.80" y="497.00" width="3.00" height="5.60" fill="#fff" />
<rect x="112.80" y="513.00" width="3.00" height="5.00" fill="#fff" />
<rect x="118.65" y="497.00" width="3.00" height="5.60" fill="#fff" />
<rect x="118.65" y="513.00" width="3.00" height="5.00" fill="#fff" />
<rect x="124.50" y="497.00" width="3.00" height="5.60" fill="#fff" />
<rect x="124.50" y="513.00" width="3.00" height="5.00" fill="#fff" />
<rect x="130.35" y="497.00" width="3.00" height="5.60" fill="#fff" />
<rect x="130.35" y="513.00" width="3.00" height="5.00" fill="#fff" />
<rect x="136.20" y="497.00" width="3.00" height="5.60" fill="#fff" />
<rect x="136.20" y="513.00" width="3.00" height="5.00" fill="#fff" />
<rect x="142.05" y="497.00" width="3.00" height="5.60" fill="#fff" />
<rect x="142.05" y="513.00" width="3.00" height="5.00" fill="#fff" />
<rect x="68.80" y="505.00" width="32.40" height="4.80" fill="#fff" />
<rect x="106.80" y="505.00" width="33.40" height="4.80" fill="#fff" />
<polygon points="149.10,504.50 145.80,506.00 145.80,509.00 149.10,510.50" fill="#fff"/>
<rect x="64.00" y="521.00" width="85.00" height="25.00" fill="#000" />
<rect x="66.00" y="523.00" width="3.00" height="5.60" fill="#fff" />
<rect x="66.00" y="539.00" width="3.00" height="5.00" fill="#fff" />
<rect x="71.85" y="523.00" width="3.00" height="5.60" fill="#fff" />
<rect x="71.85" y="539.00" width="3.00" height="5.00" fill="#fff" />
<rect x="77.70" y="523.00" width="3.00" height="5.60" fill="#fff" />
<rect x="77.70" y="539.00" width="3.00" height="5.00" fill="#fff" />
<rect x="83.55" y="523.00" width="3.00" height="5.60" fill="#fff" />
<rect x="83.55" y="539.00" width="3.00" height="5.00" fill="#fff" />
<rect x="89.40" y="523.00" width="3.00" height="5.60" fill="#fff" />
<rect x="89.40" y="539.00" width="3.00" height="5.00" fill="#fff" />
<rect x="95.25" y="523.00" width="3.00" height="5.60" fill="#fff" />
<rect x="95.25" y="539.00" width="3.00" height="5.00" fill="#fff" />
<rect x="101.10" y="523.00" width="3.00" height="5.60" fill="#fff" />
<rect x="101.10" y="539.00" width="3.00" height="5.00" fill="#fff" />
<rect x="106.95" y="523.00" width="3.00" height="5.60" fill="#fff" />
<rect x="106.95" y="539.00" width="3.00" height="5.00" fill="#fff" />
<rect x="112.80" y="523.00" width="3.00" height="5.60" fill="#fff" />
<rect x="112.80" y="539.00" width="3.00" height="5.00" fill="#fff" />
<rect x="118.65" y="523.00" width="3.00" height="5.60" fill="#fff" />
<rect x="118.65" y="539.00" width="3.00" height="5.00" fill="#fff" />
<rect x="124.50" y="523.00" width="3.00" height="5.60" fill="#fff" />
<rect x="124.50" y="539.00" width="3.00" height="5.00" fill="#fff" />
<rect x="130.35" y="523.00" width="3.00" height="5.60" fill="#fff" />
<rect x="130.35" y="539.00" width="3.00" height="5.00" fill="#fff" />
<rect x="136.20" y="523.00" width="3.00" height="5.60" fill="#fff" />
<rect x="136.20" y="539.00" width="3.00" height="5.00" fill="#fff" />
<rect x="142.05" y="523.00" width="3.00" height="5.60" fill="#fff" />
<rect x="142.05" y="539.00" width="3.00" height="5.00" fill="#fff" />
<rect x="68.80" y="531.00" width="32.40" height="4.80" fill="#fff" />
<rect x="106.80" y="531.00" width="33.40" height="4.80" fill="#fff" />
<polygon points="149.10,530.50 145.80,532.00 145.80,535.00 149.10,536.50" fill="#fff"/>
<rect x="64.00" y="547.00" width="85.00" height="25.00" fill="#000" />
<rect x="66.00" y="549.00" width="3.00" height="5.60" fill="#fff" />
<rect x="66.00" y="565.00" width="3.00" height="5.00" fill="#fff" />
<rect x="71.85" y="549.00" width="3.00" height="5.60" fill="#fff" />
<rect x="71.85" y="565.00" width="3.00" height="5.00" fill="#fff" />
<rect x="77.70" y="549.00" width="3.00" height="5.60" fill="#fff" />
<rect x="77.70" y="565.00" width="3.00" height="5.00" fill="#fff" />
<rect x="83.55" y="549.00" width="3.00" height="5.60" fill="#fff" />
<rect x="83.55" y="565.00" width="3.00" height="5.00" fill="#fff" />
<rect x="89.40" y="549.00" width="3.00" height="5.60" fill="#fff" />
<rect x="89.40" y="565.00" width="3.00" height="5.00" fill="#fff" />
<rect x="95.25" y="549.00" width="3.00" height="5.60" fill="#fff" />
<rect x="95.25" y="565.00" width="3.00" height="5.00" fill="#fff" />
<rect x="101.10" y="549.00" width="3.00" height="5.60" fill="#fff" />
<rect x="101.10" y="565.00" width="3.00" height="5.00" fill="#fff" />
<rect x="106.95" y="549.00" width="3.00" height="5.60" fill="#fff" />
<rect x="106.95" y="565.00" width="3.00" height="5.00" fill="#fff" />
<rect x="112.80" y="549.00" width="3.00" height="5.60" fill="#fff" />
<rect x="112.80" y="565.00" width="3.00" height="5.00" fill="#fff" />
<rect x="118.65" y="549.00" width="3.00" height="5.60" fill="#fff" />
<rect x="118.65" y="565.00" width="3.00" height="5.00" fill="#fff" />
<rect x="124.50" y="549.00" width="3.00" height="5.60" fill="#fff" />
<rect x="124.50" y="565.00" width="3.00" height="5.00" fill="#fff" />
<rect x="130.35" y="549.00" width="3.00" height="5.60" fill="#fff" />
<rect x="130.35" y="565.00" width="3.00" height="5.00" fill="#fff" />
<rect x="136.20" y="549.00" width="3.00" height="5.60" fill="#fff" />
<rect x="136.20" y="565.00" width="3.00" height="5.00" fill="#fff" />
<rect x="142.05" y="549.00" width="3.00" height="5.60" fill="#fff" />
<rect x="142.05" y="565.00" width="3.00" height="5.00" fill="#fff" />
<rect x="68.80" y="557.00" width="32.40" height="4.80" fill="#fff" />
<rect x="106.80" y="557.00" width="33.40" height="4.80" fill="#fff" />
<polygon points="149.10,556.50 145.80,558.00 145.80,561.00 149.10,562.50" fill="#fff"/>
<rect x="64.00" y="573.00" width="85.00" height="25.00" fill="#000" />
<rect x="66.00" y="575.00" width="3.00" height="5.60" fill="#fff" />
<rect x="66.00" y="591.00" width="3.00" height="5.00" fill="#fff" />
<rect x="71.85" y="575.00" width="3.00" height="5.60" fill="#fff" />
<rect x="71.85" y="591.00" width="3.00" height="5.00" fill="#fff" />
<rect x="77.70" y="575.00" width="3.00" height="5.60" fill="#fff" />
<rect x="77.70" y="591.00" width="3.00" height="5.00" fill="#fff" />
<rect x="83.55" y="575.00" width="3.00" height="5.60" fill="#fff" />
<rect x="83.55" y="591.00" width="3.00" height="5.00" fill="#fff" />
<rect x="89.40" y="575.00" width="3.00" height="5.60" fill="#fff" />
<rect x="89.40" y="591.00" width="3.00" height="5.00" fill="#fff" />
<rect x="95.25" y="575.00" width="3.00" height="5.60" fill="#fff" />
<rect x="95.25" y="591.00" width="3.00" height="5.00" fill="#fff" />
<rect x="101.10" y="575.00" width="3.00" height="5.60" fill="#fff" />
<rect x="101.10" y="591.00" width="3.00" height="5.00" fill="#fff" />
<rect x="106.95" y="575.00" width="3.00" height="5.60" fill="#fff" />
<rect x="106.95" y="591.00" width="3.00" height="5.00" fill="#fff" />
<rect x="112.80" y="575.00" width="3.00" height="5.60" fill="#fff" />
<rect x="112.80" y="591.00" width="3.00" height="5.00" fill="#fff" />
<rect x="118.65" y="575.00" width="3.00" height="5.60" fill="#fff" />
<rect x="118.65" y="591.00" width="3.00" height="5.00" fill="#fff" />
<rect x="124.50" y="575.00" width="3.00" height="5.60" fill="#fff" />
<rect x="124.50" y="591.00" width="3.00" height="5.00" fill="#fff" />
<rect x="130.35" y="575.00" width="3.00" height="5.60" fill="#fff" />
<rect x="130.35" y="591.00" width="3.00" height="5.00" fill="#fff" />
<rect x="136.20" y="575.00" width="3.00" height="5.60" fill="#fff" />
<rect x="136.20" y="591.00" width="3.00" height="5.00" fill="#fff" />
<rect x="142.05" y="575.00" width="3.00" height="5.60" fill="#fff" />
<rect x="142.05" y="591.00" width="3.00" height="5.00" fill="#fff" />
<rect x="68.80" y="583.00" width="32.40" height="4.80" fill="#fff" />
<rect x="106.80" y="583.00" width="33.40" height="4.80" fill="#fff" />
<polygon points="149.10,582.50 145.80,584.00 145.80,587.00 149.10,588.50" fill="#fff"/>
<rect x="64.00" y="599.00" width="85.00" height="25.00" fill="#000" />
<rect x="66.00" y="601.00" width="3.00" height="5.60" fill="#fff" />
<rect x="66.00" y="617.00" width="3.00" height="5.00" fill="#fff" />
<rect x="71.85" y="601.00" width="3.00" height="5.60" fill="#fff" />
<rect x="71.85" y="617.00" width="3.00" height="5.00" fill="#fff" />
<rect x="77.70" y="601.00" width="3.00" height="5.60" fill="#fff" />
<rect x="77.70" y="617.00" width="3.00" height="5.00" fill="#fff" />
<rect x="83.55" y="601.00" width="3.00" height="5.60" fill="#fff" />
<rect x="83.55" y="617.00" width="3.00" height="5.00" fill="#fff" />
<rect x="89.40" y="601.00" width="3.00" height="5.60" fill="#fff" />
<rect x="89.40" y="617.00" width="3.00" height="5.00" fill="#fff" />
<rect x="95.25" y="601.00" width="3.00" height="5.60" fill="#fff" />
<rect x="95.25" y="617.00" width="3.00" height="5.00" fill="#fff" />
<rect x="101.10" y="601.00" width="3.00" height="5.60" fill="#fff" />
<rect x="101.10" y="617.00" width="3.00" height="5.00" fill="#fff" />
<rect x="106.95" y="601.00" width="3.00" height="5.60" fill="#fff" />
<rect x="106.95" y="617.00" width="3.00" height="5.00" fill="#fff" />
<rect x="112.80" y="601.00" width="3.00" height="5.60" fill="#fff" />
<rect x="112.80" y="617.00" width="3.00" height="5.00" fill="#fff" />
<rect x="118.65" y="601.00" width="3.00" height="5.60" fill="#fff" />
<rect x="118.65" y="617.00" width="3.00" height="5.00" fill="#fff" />
<rect x="124.50" y="601.00" width="3.00" height="5.60" fill="#fff" />
<rect x="124.50" y="617.00" width="3.00" height="5.00" fill="#fff" />
<rect x="130.35" y="601.00" width="3.00" height="5.60" fill="#fff" />
<rect x="130.35" y="617.00" width="3.00" height="5.00" fill="#fff" />
<rect x="136.20" y="601.00" width="3.00" height="5.60" fill="#fff" />
<rect x="136.20" y="617.00" width="3.00" height="5.00" fill="#fff" />
<rect x="142.05" y="601.00" width="3.00" height="5.60" fill="#fff" />
<rect x="142.05" y="617.00" width="3.00" height="5.00" fill="#fff" />
<rect x="68.80" y="609.00" width="32.40" height="4.80" fill="#fff" />
<rect x="106.80" y="609.00" width="33.40" height="4.80" fill="#fff" />
<polygon points="149.10,608.50 145.80,610.00 145.80,613.00 149.10,614.50" fill="#fff"/>
<rect x="160.00" y="400.00" width="84.40" height="25.00" fill="#000" />
<rect x="162.00" y="402.00" width="3.00" height="5.60" fill="#fff" />
<rect x="162.00" y="418.00" width="3.00" height="5.00" fill="#fff" />
<rect x="167.85" y="402.00" width="3.00" height="5.60" fill="#fff" />
<rect x="167.85" y="418.00" width="3.00" height="5.00" fill="#fff" />
<rect x="173.70" y="402.00" width="3.00" height="5.60" fill="#fff" />
<rect x="173.70" y="418.00" width="3.00" height="5.00" fill="#fff" />
<rect x="179.55" y="402.00" width="3.00" height="5.60" fill="#fff" />
<rect x="179.55" y="418.00" width="3.00" height="5.00" fill="#fff" />
<rect x="185.40" y="402.00" width="3.00" height="5.60" fill="#fff" />
<rect x="185.40" y="418.00" width="3.00" height="5.00" fill="#fff" />
<rect x="191.25" y="402.00" width="3.00" height="5.60" fill="#fff" />
<rect x="191.25" y="418.00" width="3.00" height="5.00" fill="#fff" />
<rect x="197.10" y="402.00" width="3.00" height="5.60" fill="#fff" />
<rect x="197.10" y="418.00" width="3.00" height="5.00" fill="#fff" />
<rect x="202.95" y="402.00" width="3.00" height="5.60" fill="#fff" />
<rect x="202.95" y="418.00" width="3.00" height="5.00" fill="#fff" />
<rect x="208.80" y="402.00" width="3.00" height="5.60" fill="#fff" />
<rect x="208.80" y="418.00" width="3.00" height="5.00" fill="#fff" />
<rect x="214.65" y="402.00" width="3.00" height="5.60" fill="#fff" />
<rect x="214.65" y="418.00" width="3.00" height="5.00" fill="#fff" />
<rect x="220.50" y="402.00" width="3.00" height="5.60" fill="#fff" />
<rect x="220.50" y="418.00" width="3.00" height="5.00" fill="#fff" />
<rect x="226.35" y="402.00" width="3.00" height="5.60" fill="#fff" />
<rect x="226.35" y="418.00" width="3.00" height="5.00" fill="#fff" />
<rect x="232.20" y="402.00" width="3.00" height="5.60" fill="#fff" />
<rect x="232.20" y="418.00" width="3.00" height="5.00" fill="#fff" />
<rect x="238.05" y="402.00" width="3.00" height="5.60" fill="#fff" />
<rect x="238.05" y="418.00" width="3.00" height="5.00" fill="#fff" />
<rect x="164.80" y="410.00" width="32.40" height="4.80" fill="#fff" />
<rect x="202.80" y="410.00" width="33.40" height="4.80" fill="#fff" />
<polygon points="244.50,409.50 241.20,411.00 241.20,414.00 244.50,415.50" fill="#fff"/>
<rect x="160.00" y="426.00" width="84.40" height="25.00" fill="#000" />
<rect x="162.00" y="428.00" width="3.00" height="5.60" fill="#fff" />
<rect x="162.00" y="444.00" width="3.00" height="5.00" fill="#fff" />
<rect x="167.85" y="428.00" width="3.00" height="5.60" fill="#fff" />
<rect x="167.85" y="444.00" width="3.00" height="5.00" fill="#fff" />
<rect x="173.70" y="428.00" width="3.00" height="5.60" fill="#fff" />
<rect x="173.70" y="444.00" width="3.00" height="5.00" fill="#fff" />
<rect x="179.55" y="428.00" width="3.00" height="5.60" fill="#fff" />
<rect x="179.55" y="444.00" width="3.00" height="5.00" fill="#fff" />
<rect x="185.40" y="428.00" width="3.00" height="5.60" fill="#fff" />
<rect x="185.40" y="444.00" width="3.00" height="5.00" fill="#fff" />
<rect x="191.25" y="428.00" width="3.00" height="5.60" fill="#fff" />
<rect x="191.25" y="444.00" width="3.00" height="5.00" fill="#fff" />
<rect x="197.10" y="428.00" width="3.00" height="5.60" fill="#fff" />
<rect x="197.10" y="444.00" width="3.00" height="5.00" fill="#fff" />
<rect x="202.95" y="428.00" width="3.00" height="5.60" fill="#fff" />
<rect x="202.95" y="444.00" width="3.00" height="5.00" fill="#fff" />
<rect x="208.80" y="428.00" width="3.00" height="5.60" fill="#fff" />
<rect x="208.80" y="444.00" width="3.00" height="5.00" fill="#fff" />
<rect x="214.65" y="428.00" width="3.00" height="5.60" fill="#fff" />
<rect x="214.65" y="444.00" width="3.00" height="5.00" fill="#fff" />
<rect x="220.50" y="428.00" width="3.00" height="5.60" fill="#fff" />
<rect x="220.50" y="444.00" width="3.00" height="5.00" fill="#fff" />
<rect x="226.35" y="428.00" width="3.00" height="5.60" fill="#fff" />
<rect x="226.35" y="444.00" width="3.00" height="5.00" fill="#fff" />
<rect x="232.20" y="428.00" width="3.00" height="5.60" fill="#fff" />
<rect x="232.20" y="444.00" width="3.00" height="5.00" fill="#fff" />
<rect x="238.05" y="428.00" width="3.00" height="5.60" fill="#fff" />
<rect x="238.05" y="444.00" width="3.00" height="5.00" fill="#fff" />
<rect x="164.80" y="436.00" width="32.40" height="4.80" fill="#fff" />
<rect x="202.80" y="436.00" width="33.40" height="4.80" fill="#fff" />
<polygon points="244.50,435.50 241.20,437.00 241.20,440.00 244.50,441.50" fill="#fff"/>
<rect x="160.00" y="452.00" width="84.40" height="25.00" fill="#000" />
<rect x="162.00" y="454.00" width="3.00" height="5.60" fill="#fff" />
<rect x="162.00" y="470.00" width="3.00" height="5.00" fill="#fff" />
<rect x="167.85" y="454.00" width="3.00" height="5.60" fill="#fff" />
<rect x="167.85" y="470.00" width="3.00" height="5.00" fill="#fff" />
<rect x="173.70" y="454.00" width="3.00" height="5.60" fill="#fff" />
<rect x="173.70" y="470.00" width="3.00" height="5.00" fill="#fff" />
<rect x="179.55" y="454.00" width="3.00" height="5.60" fill="#fff" />
<rect x="179.55" y="470.00" width="3.00" height="5.00" fill="#fff" />
<rect x="185.40" y="454.00" width="3.00" height="5.60" fill="#fff" />
<rect x="185.40" y="470.00" width="3.00" height="5.00" fill="#fff" />
<rect x="191.25" y="454.00" width="3.00" height="5.60" fill="#fff" />
<rect x="191.25" y="470.00" width="3.00" height="5.00" fill="#fff" />
<rect x="197.10" y="454.00" width="3.00" height="5.60" fill="#fff" />
<rect x="197.10" y="470.00" width="3.00" height="5.00" fill="#fff" />
<rect x="202.95" y="454.00" width="3.00" height="5.60" fill="#fff" />
<rect x="202.95" y="470.00" width="3.00" height="5.00" fill="#fff" />
<rect x="208.80" y="454.00" width="3.00" height="5.60" fill="#fff" />
<rect x="208.80" y="470.00" width="3.00" height="5.00" fill="#fff" />
<rect x="214.65" y="454.00" width="3.00" height="5.60" fill="#fff" />
<rect x="214.65" y="470.00" width="3.00" height="5.00" fill="#fff" />
<rect x="220.50" y="454.00" width="3.00" height="5.60" fill="#fff" />
<rect x="220.50" y="470.00" width="3.00" height="5.00" fill="#fff" />
<rect x="226.35" y="454.00" width="3.00" height="5.60" fill="#fff" />
<rect x="226.35" y="470.00" width="3.00" height="5.00" fill="#fff" />
<rect x="232.20" y="454.00" width="3.00" height="5.60" fill="#fff" />
<rect x="232.20" y="470.00" width="3.00" height="5.00" fill="#fff" />
<rect x="238.05" y="454.00" width="3.00" height="5.60" fill="#fff" />
<rect x="238.05" y="470.00" width="3.00" height="5.00" fill="#fff" />
<rect x="164.80" y="462.00" width="32.40" height="4.80" fill="#fff" />
<rect x="202.80" y="462.00" width="33.40" height="4.80" fill="#fff" />
<polygon points="244.50,461.50 241.20,463.00 241.20,466.00 244.50,467.50" fill="#fff"/>
<rect x="160.00" y="478.00" width="84.40" height="25.00" fill="#000" />
<rect x="162.00" y="480.00" width="3.00" height="5.60" fill="#fff" />
<rect x="162.00" y="496.00" width="3.00" height="5.00" fill="#fff" />
<rect x="167.85" y="480.00" width="3.00" height="5.60" fill="#fff" />
<rect x="167.85" y="496.00" width="3.00" height="5.00" fill="#fff" />
<rect x="173.70" y="480.00" width="3.00" height="5.60" fill="#fff" />
<rect x="173.70" y="496.00" width="3.00" height="5.00" fill="#fff" />
<rect x="179.55" y="480.00" width="3.00" height="5.60" fill="#fff" />
<rect x="179.55" y="496.00" width="3.00" height="5.00" fill="#fff" />
<rect x="185.40" y="480.00" width="3.00" height="5.60" fill="#fff" />
<rect x="185.40" y="496.00" width="3.00" height="5.00" fill="#fff" />
<rect x="191.25" y="480.00" width="3.00" height="5.60" fill="#fff" />
<rect x="191.25" y="496.00" width="3.00" height="5.00" fill="#fff" />
<rect x="197.10" y="480.00" width="3.00" height="5.60" fill="#fff" />
<rect x="197.10" y="496.00" width="3.00" height="5.00" fill="#fff" />
<rect x="202.95" y="480.00" width="3.00" height="5.60" fill="#fff" />
<rect x="202.95" y="496.00" width="3.00" height="5.00" fill="#fff" />
<rect x="208.80" y="480.00" width="3.00" height="5.60" fill="#fff" />
<rect x="208.80" y="496.00" width="3.00" height="5.00" fill="#fff" />
<rect x="214.65" y="480.00" width="3.00" height="5.60" fill="#fff" />
<rect x="214.65" y="496.00" width="3.00" height="5.00" fill="#fff" />
<rect x="220.50" y="480.00" width="3.00" height="5.60" fill="#fff" />
<rect x="220.50" y="496.00" width="3.00" height="5.00" fill="#fff" />
<rect x="226.35" y="480.00" width="3.00" height="5.60" fill="#fff" />
<rect x="226.35" y="496.00" width="3.00" height="5.00" fill="#fff" />
<rect x="232.20" y="480.00" width="3.00" height="5.60" fill="#fff" />
<rect x="232.20" y="496.00" width="3.00" height="5.00" fill="#fff" />
<rect x="238.05" y="480.00" width="3.00" height="5.60" fill="#fff" />
<rect x="238.05" y="496.00" width="3.00" height="5.00" fill="#fff" />
<rect x="164.80" y="488.00" width="32.40" height="4.80" fill="#fff" />
<rect x="202.80" y="488.00" width="33.40" height="4.80" fill="#fff" />
<polygon points="244.50,487.50 241.20,489.00 241.20,492.00 244.50,493.50" fill="#fff"/>
<rect x="160.00" y="504.00" width="84.40" height="25.00" fill="#000" />
<rect x="162.00" y="506.00" width="3.00" height="5.60" fill="#fff" />
<rect x="162.00" y="522.00" width="3.00" height="5.00" fill="#fff" />
<rect x="167.85" y="506.00" width="3.00" height="5.60" fill="#fff" />
<rect x="167.85" y="522.00" width="3.00" height="5.00" fill="#fff" />
<rect x="173.70" y="506.00" width="3.00" height="5.60" fill="#fff" />
<rect x="173.70" y="522.00" width="3.00" height="5.00" fill="#fff" />
<rect x="179.55" y="506.00" width="3.00" height="5.60" fill="#fff" />
<rect x="179.55" y="522.00" width="3.00" height="5.00" fill="#fff" />
<rect x="185.40" y="506.00" width="3.00" height="5.60" fill="#fff" />
<rect x="185.40" y="522.00" width="3.00" height="5.00" fill="#fff" />
<rect x="191.25" y="506.00" width="3.00" height="5.60" fill="#fff" />
<rect x="191.25" y="522.00" width="3.00" height="5.00" fill="#fff" />
<rect x="197.10" y="506.00" width="3.00" height="5.60" fill="#fff" />
<rect x="197.10" y="522.00" width="3.00" height="5.00" fill="#fff" />
<rect x="202.95" y="506.00" width="3.00" height="5.60" fill="#fff" />
<rect x="202.95" y="522.00" width="3.00" height="5.00" fill="#fff" />
<rect x="208.80" y="506.00" width="3.00" height="5.60" fill="#fff" />
<rect x="208.80" y="522.00" width="3.00" height="5.00" fill="#fff" />
<rect x="214.65" y="506.00" width="3.00" height="5.60" fill="#fff" />
<rect x="214.65" y="522.00" width="3.00" height="5.00" fill="#fff" />
<rect x="220.50" y="506.00" width="3.00" height="5.60" fill="#fff" />
<rect x="220.50" y="522.00" width="3.00" height="5.00" fill="#fff" />
<rect x="226.35" y="506.00" width="3.00" height="5.60" fill="#fff" />
<rect x="226.35" y="522.00" width="3.00" height="5.00" fill="#fff" />
<rect x="232.20" y="506.00" width="3.00" height="5.60" fill="#fff" />
<rect x="232.20" y="522.00" width="3.00" height="5.00" fill="#fff" />
<rect x="238.05" y="506.00" width="3.00" height="5.60" fill="#fff" />
<rect x="238.05" y="522.00" width="3.00" height="5.00" fill="#fff" />
<rect x="164.80" y="514.00" width="32.40" height="4.80" fill="#fff" />
<rect x="202.80" y="514.00" width="33.40" height="4.80" fill="#fff" />
<polygon points="244.50,513.50 241.20,515.00 241.20,518.00 244.50,519.50" fill="#fff"/>
<rect x="160.00" y="530.00" width="84.40" height="25.00" fill="#000" />
<rect x="162.00" y="532.00" width="3.00" height="5.60" fill="#fff" />
<rect x="162.00" y="548.00" width="3.00" height="5.00" fill="#fff" />
<rect x="167.85" y="532.00" width="3.00" height="5.60" fill="#fff" />
<rect x="167.85" y="548.00" width="3.00" height="5.00" fill="#fff" />
<rect x="173.70" y="532.00" width="3.00" height="5.60" fill="#fff" />
<rect x="173.70" y="548.00" width="3.00" height="5.00" fill="#fff" />
<rect x="179.55" y="532.00" width="3.00" height="5.60" fill="#fff" />
<rect x="179.55" y="548.00" width="3.00" height="5.00" fill="#fff" />
<rect x="185.40" y="532.00" width="3.00" height="5.60" fill="#fff" />
<rect x="185.40" y="548.00" width="3.00" height="5.00" fill="#fff" />
<rect x="191.25" y="532.00" width="3.00" height="5.60" fill="#fff" />
<rect x="191.25" y="548.00" width="3.00" height="5.00" fill="#fff" />
<rect x="197.10" y="532.00" width="3.00" height="5.60" fill="#fff" />
<rect x="197.10" y="548.00" width="3.00" height="5.00" fill="#fff" />
<rect x="202.95" y="532.00" width="3.00" height="5.60" fill="#fff" />
<rect x="202.95" y="548.00" width="3.00" height="5.00" fill="#fff" />
<rect x="208.80" y="532.00" width="3.00" height="5.60" fill="#fff" />
<rect x="208.80" y="548.00" width="3.00" height="5.00" fill="#fff" />
<rect x="214.65" y="532.00" width="3.00" height="5.60" fill="#fff" />
<rect x="214.65" y="548.00" width="3.00" height="5.00" fill="#fff" />
<rect x="220.50" y="532.00" width="3.00" height="5.60" fill="#fff" />
<rect x="220.50" y="548.00" width="3.00" height="5.00" fill="#fff" />
<rect x="226.35" y="532.00" width="3.00" height="5.60" fill="#fff" />
<rect x="226.35" y="548.00" width="3.00" height="5.00" fill="#fff" />
<rect x="232.20" y="532.00" width="3.00" height="5.60" fill="#fff" />
<rect x="232.20" y="548.00" width="3.00" height="5.00" fill="#fff" />
<rect x="238.05" y="532.00" width="3.00" height="5.60" fill="#fff" />
<rect x="238.05" y="548.00" width="3.00" height="5.00" fill="#fff" />
<rect x="164.80" y="540.00" width="32.40" height="4.80" fill="#fff" />
<rect x="202.80" y="540.00" width="33.40" height="4.80" fill="#fff" />
<polygon points="244.50,539.50 241.20,541.00 241.20,544.00 244.50,545.50" fill="#fff"/>
<rect x="160.00" y="556.00" width="84.40" height="25.00" fill="#000" />
<rect x="162.00" y="558.00" width="3.00" height="5.60" fill="#fff" />
<rect x="162.00" y="574.00" width="3.00" height="5.00" fill="#fff" />
<rect x="167.85" y="558.00" width="3.00" height="5.60" fill="#fff" />
<rect x="167.85" y="574.00" width="3.00" height="5.00" fill="#fff" />
<rect x="173.70" y="558.00" width="3.00" height="5.60" fill="#fff" />
<rect x="173.70" y="574.00" width="3.00" height="5.00" fill="#fff" />
<rect x="179.55" y="558.00" width="3.00" height="5.60" fill="#fff" />
<rect x="179.55" y="574.00" width="3.00" height="5.00" fill="#fff" />
<rect x="185.40" y="558.00" width="3.00" height="5.60" fill="#fff" />
<rect x="185.40" y="574.00" width="3.00" height="5.00" fill="#fff" />
<rect x="191.25" y="558.00" width="3.00" height="5.60" fill="#fff" />
<rect x="191.25" y="574.00" width="3.00" height="5.00" fill="#fff" />
<rect x="197.10" y="558.00" width="3.00" height="5.60" fill="#fff" />
<rect x="197.10" y="574.00" width="3.00" height="5.00" fill="#fff" />
<rect x="202.95" y="558.00" width="3.00" height="5.60" fill="#fff" />
<rect x="202.95" y="574.00" width="3.00" height="5.00" fill="#fff" />
<rect x="208.80" y="558.00" width="3.00" height="5.60" fill="#fff" />
<rect x="208.80" y="574.00" width="3.00" height="5.00" fill="#fff" />
<rect x="214.65" y="558.00" width="3.00" height="5.60" fill="#fff" />
<rect x="214.65" y="574.00" width="3.00" height="5.00" fill="#fff" />
<rect x="220.50" y="558.00" width="3.00" height="5.60" fill="#fff" />
<rect x="220.50" y="574.00" width="3.00" height="5.00" fill="#fff" />
<rect x="226.35" y="558.00" width="3.00" height="5.60" fill="#fff" />
<rect x="226.35" y="574.00" width="3.00" height="5.00" fill="#fff" />
<rect x="232.20" y="558.00" width="3.00" height="5.60" fill="#fff" />
<rect x="232.20" y="574.00" width="3.00" height="5.00" fill="#fff" />
<rect x="238.05" y="558.00" width="3.00" height="5.60" fill="#fff" />
<rect x="238.05" y="574.00" width="3.00" height="5.00" fill="#fff" />
<rect x="164.80" y="566.00" width="32.40" height="4.80" fill="#fff" />
<rect x="202.80" y="566.00" width="33.40" height="4.80" fill="#fff" />
<polygon points="244.50,565.50 241.20,567.00 241.20,570.00 244.50,571.50" fill="#fff"/>
<rect x="160.00" y="582.00" width="84.40" height="25.00" fill="#000" />
<rect x="162.00" y="584.00" width="3.00" height="5.60" fill="#fff" />
<rect x="162.00" y="600.00" width="3.00" height="5.00" fill="#fff" />
<rect x="167.85" y="584.00" width="3.00" height="5.60" fill="#fff" />
<rect x="167.85" y="600.00" width="3.00" height="5.00" fill="#fff" />
<rect x="173.70" y="584.00" width="3.00" height="5.60" fill="#fff" />
<rect x="173.70" y="600.00" width="3.00" height="5.00" fill="#fff" />
<rect x="179.55" y="584.00" width="3.00" height="5.60" fill="#fff" />
<rect x="179.55" y="600.00" width="3.00" height="5.00" fill="#fff" />
<rect x="185.40" y="584.00" width="3.00" height="5.60" fill="#fff" />
<rect x="185.40" y="600.00" width="3.00" height="5.00" fill="#fff" />
<rect x="191.25" y="584.00" width="3.00" height="5.60" fill="#fff" />
<rect x="191.25" y="600.00" width="3.00" height="5.00" fill="#fff" />
<rect x="197.10" y="584.00" width="3.00" height="5.60" fill="#fff" />
<rect x="197.10" y="600.00" width="3.00" height="5.00" fill="#fff" />
<rect x="202.95" y="584.00" width="3.00" height="5.60" fill="#fff" />
<rect x="202.95" y="600.00" width="3.00" height="5.00" fill="#fff" />
<rect x="208.80" y="584.00" width="3.00" height="5.60" fill="#fff" />
<rect x="208.80" y="600.00" width="3.00" height="5.00" fill="#fff" />
<rect x="214.65" y="584.00" width="3.00" height="5.60" fill="#fff" />
<rect x="214.65" y="600.00" width="3.00" height="5.00" fill="#fff" />
<rect x="220.50" y="584.00" width="3.00" height="5.60" fill="#fff" />
<rect x="220.50" y="600.00" width="3.00" height="5.00" fill="#fff" />
<rect x="226.35" y="584.00" width="3.00" height="5.60" fill="#fff" />
<rect x="226.35" y="600.00" width="3.00" height="5.00" fill="#fff" />
<rect x="232.20" y="584.00" width="3.00" height="5.60" fill="#fff" />
<rect x="232.20" y="600.00" width="3.00" height="5.00" fill="#fff" />
<rect x="238.05" y="584.00" width="3.00" height="5.60" fill="#fff" />
<rect x="238.05" y="600.00" width="3.00" height="5.00" fill="#fff" />
<rect x="164.80" y="592.00" width="32.40" height="4.80" fill="#fff" />
<rect x="202.80" y="592.00" width="33.40" height="4.80" fill="#fff" />
<polygon points="244.50,591.50 241.20,593.00 241.20,596.00 244.50,597.50" fill="#fff"/>
<rect x="98.60" y="441.40" width="17.80" height="75.60" fill="#000" />
<rect x="99.60" y="443.50" width="13.70" height="72.50" fill="#fff" />
<rect x="193.3" y="465.3" width="17.7" height="76" rx="4" fill="#000"/>
<rect x="195.5" y="467.3" width="13.6" height="72" rx="2.5" fill="#fff"/>
<path d="M246.8,390.6 L255.5,393.8 V493.8 L262.6,497.3 L255.5,500.8 V617 L245,623" fill="none" stroke="#000" stroke-width="1"/>
<rect x="265.10" y="487.90" width="49.90" height="19.30" rx="3.5" fill="#000"/>
<rect x="267.30" y="490.90" width="45.10" height="14.10" rx="2.0" fill="#fff"/>
<defs><g id="c10">
<rect x="0" y="0" width="10" height="191" fill="#000"/>
<rect x="1" y="1" width="2" height="4" fill="#fff"/>
<rect x="4" y="1" width="2" height="4" fill="#fff"/>
<rect x="7" y="1" width="2" height="1" fill="#fff"/>
<rect x="7" y="2" width="1" height="1" fill="#fff"/>
<rect x="8" y="3" width="1" height="1" fill="#fff"/>
<rect x="7" y="4" width="2" height="1" fill="#fff"/>
<rect x="1" y="6" width="3" height="1" fill="#fff"/>
<rect x="1" y="8" width="2" height="4" fill="#fff"/>
<rect x="4" y="8" width="2" height="4" fill="#fff"/>
<rect x="7" y="8" width="2" height="1" fill="#fff"/>
<rect x="7" y="9" width="1" height="1" fill="#fff"/>
<rect x="8" y="10" width="1" height="1" fill="#fff"/>
<rect x="7" y="11" width="2" height="1" fill="#fff"/>
<rect x="1" y="14" width="2" height="4" fill="#fff"/>
<rect x="4" y="14" width="2" height="4" fill="#fff"/>
<rect x="7" y="14" width="2" height="1" fill="#fff"/>
<rect x="7" y="15" width="1" height="1" fill="#fff"/>
<rect x="8" y="16" width="1" height="1" fill="#fff"/>
<rect x="7" y="17" width="2" height="1" fill="#fff"/>
<rect x="1" y="20" width="2" height="4" fill="#fff"/>
<rect x="4" y="20" width="2" height="4" fill="#fff"/>
<rect x="7" y="20" width="2" height="1" fill="#fff"/>
<rect x="7" y="21" width="1" height="1" fill="#fff"/>
<rect x="8" y="22" width="1" height="1" fill="#fff"/>
<rect x="7" y="23" width="2" height="1" fill="#fff"/>
<rect x="1" y="25" width="3" height="1" fill="#fff"/>
<rect x="1" y="27" width="2" height="4" fill="#fff"/>
<rect x="4" y="27" width="2" height="4" fill="#fff"/>
<rect x="7" y="27" width="2" height="1" fill="#fff"/>
<rect x="7" y="28" width="1" height="1" fill="#fff"/>
<rect x="8" y="29" width="1" height="1" fill="#fff"/>
<rect x="7" y="30" width="2" height="1" fill="#fff"/>
<rect x="1" y="32" width="3" height="1" fill="#fff"/>
<rect x="1" y="34" width="2" height="4" fill="#fff"/>
<rect x="4" y="34" width="2" height="4" fill="#fff"/>
<rect x="7" y="34" width="2" height="1" fill="#fff"/>
<rect x="7" y="35" width="1" height="1" fill="#fff"/>
<rect x="8" y="36" width="1" height="1" fill="#fff"/>
<rect x="7" y="37" width="2" height="1" fill="#fff"/>
<rect x="1" y="40" width="2" height="4" fill="#fff"/>
<rect x="4" y="40" width="2" height="4" fill="#fff"/>
<rect x="7" y="40" width="2" height="1" fill="#fff"/>
<rect x="7" y="41" width="1" height="1" fill="#fff"/>
<rect x="8" y="42" width="1" height="1" fill="#fff"/>
<rect x="7" y="43" width="2" height="1" fill="#fff"/>
<rect x="1" y="46" width="2" height="4" fill="#fff"/>
<rect x="4" y="46" width="2" height="4" fill="#fff"/>
<rect x="7" y="46" width="2" height="1" fill="#fff"/>
<rect x="7" y="47" width="1" height="1" fill="#fff"/>
<rect x="8" y="48" width="1" height="1" fill="#fff"/>
<rect x="7" y="49" width="2" height="1" fill="#fff"/>
<rect x="1" y="51" width="3" height="1" fill="#fff"/>
<rect x="1" y="53" width="2" height="4" fill="#fff"/>
<rect x="4" y="53" width="2" height="4" fill="#fff"/>
<rect x="7" y="53" width="2" height="1" fill="#fff"/>
<rect x="7" y="54" width="1" height="1" fill="#fff"/>
<rect x="8" y="55" width="1" height="1" fill="#fff"/>
<rect x="7" y="56" width="2" height="1" fill="#fff"/>
<rect x="1" y="58" width="3" height="1" fill="#fff"/>
<rect x="1" y="60" width="2" height="4" fill="#fff"/>
<rect x="4" y="60" width="2" height="4" fill="#fff"/>
<rect x="7" y="60" width="2" height="1" fill="#fff"/>
<rect x="7" y="61" width="1" height="1" fill="#fff"/>
<rect x="8" y="62" width="1" height="1" fill="#fff"/>
<rect x="7" y="63" width="2" height="1" fill="#fff"/>
<rect x="1" y="66" width="2" height="4" fill="#fff"/>
<rect x="4" y="66" width="2" height="4" fill="#fff"/>
<rect x="7" y="66" width="2" height="1" fill="#fff"/>
<rect x="7" y="67" width="1" height="1" fill="#fff"/>
<rect x="8" y="68" width="1" height="1" fill="#fff"/>
<rect x="7" y="69" width="2" height="1" fill="#fff"/>
<rect x="1" y="72" width="2" height="4" fill="#fff"/>
<rect x="4" y="72" width="2" height="4" fill="#fff"/>
<rect x="7" y="72" width="2" height="1" fill="#fff"/>
<rect x="7" y="73" width="1" height="1" fill="#fff"/>
<rect x="8" y="74" width="1" height="1" fill="#fff"/>
<rect x="7" y="75" width="2" height="1" fill="#fff"/>
<rect x="1" y="77" width="3" height="1" fill="#fff"/>
<rect x="1" y="79" width="2" height="4" fill="#fff"/>
<rect x="4" y="79" width="2" height="4" fill="#fff"/>
<rect x="7" y="79" width="2" height="1" fill="#fff"/>
<rect x="7" y="80" width="1" height="1" fill="#fff"/>
<rect x="8" y="81" width="1" height="1" fill="#fff"/>
<rect x="7" y="82" width="2" height="1" fill="#fff"/>
<rect x="1" y="84" width="3" height="1" fill="#fff"/>
<rect x="1" y="86" width="2" height="4" fill="#fff"/>
<rect x="4" y="86" width="2" height="4" fill="#fff"/>
<rect x="7" y="86" width="2" height="1" fill="#fff"/>
<rect x="7" y="87" width="1" height="1" fill="#fff"/>
<rect x="8" y="88" width="1" height="1" fill="#fff"/>
<rect x="7" y="89" width="2" height="1" fill="#fff"/>
<rect x="1" y="92" width="2" height="4" fill="#fff"/>
<rect x="4" y="92" width="2" height="4" fill="#fff"/>
<rect x="7" y="92" width="2" height="1" fill="#fff"/>
<rect x="7" y="93" width="1" height="1" fill="#fff"/>
<rect x="8" y="94" width="1" height="1" fill="#fff"/>
<rect x="7" y="95" width="2" height="1" fill="#fff"/>
<rect x="1" y="98" width="2" height="4" fill="#fff"/>
<rect x="4" y="98" width="2" height="4" fill="#fff"/>
<rect x="7" y="98" width="2" height="1" fill="#fff"/>
<rect x="7" y="99" width="1" height="1" fill="#fff"/>
<rect x="8" y="100" width="1" height="1" fill="#fff"/>
<rect x="7" y="101" width="2" height="1" fill="#fff"/>
<rect x="1" y="103" width="3" height="1" fill="#fff"/>
<rect x="1" y="105" width="2" height="4" fill="#fff"/>
<rect x="4" y="105" width="2" height="4" fill="#fff"/>
<rect x="7" y="105" width="2" height="1" fill="#fff"/>
<rect x="7" y="106" width="1" height="1" fill="#fff"/>
<rect x="8" y="107" width="1" height="1" fill="#fff"/>
<rect x="7" y="108" width="2" height="1" fill="#fff"/>
<rect x="1" y="110" width="3" height="1" fill="#fff"/>
<rect x="1" y="112" width="2" height="4" fill="#fff"/>
<rect x="4" y="112" width="2" height="4" fill="#fff"/>
<rect x="7" y="112" width="2" height="1" fill="#fff"/>
<rect x="7" y="113" width="1" height="1" fill="#fff"/>
<rect x="8" y="114" width="1" height="1" fill="#fff"/>
<rect x="7" y="115" width="2" height="1" fill="#fff"/>
<rect x="1" y="118" width="2" height="4" fill="#fff"/>
<rect x="4" y="118" width="2" height="4" fill="#fff"/>
<rect x="7" y="118" width="2" height="1" fill="#fff"/>
<rect x="7" y="119" width="1" height="1" fill="#fff"/>
<rect x="8" y="120" width="1" height="1" fill="#fff"/>
<rect x="7" y="121" width="2" height="1" fill="#fff"/>
<rect x="1" y="124" width="2" height="4" fill="#fff"/>
<rect x="4" y="124" width="2" height="4" fill="#fff"/>
<rect x="7" y="124" width="2" height="1" fill="#fff"/>
<rect x="7" y="125" width="1" height="1" fill="#fff"/>
<rect x="8" y="126" width="1" height="1" fill="#fff"/>
<rect x="7" y="127" width="2" height="1" fill="#fff"/>
<rect x="1" y="129" width="3" height="1" fill="#fff"/>
<rect x="1" y="131" width="2" height="4" fill="#fff"/>
<rect x="4" y="131" width="2" height="4" fill="#fff"/>
<rect x="7" y="131" width="2" height="1" fill="#fff"/>
<rect x="7" y="132" width="1" height="1" fill="#fff"/>
<rect x="8" y="133" width="1" height="1" fill="#fff"/>
<rect x="7" y="134" width="2" height="1" fill="#fff"/>
<rect x="1" y="136" width="3" height="1" fill="#fff"/>
<rect x="1" y="138" width="2" height="4" fill="#fff"/>
<rect x="4" y="138" width="2" height="4" fill="#fff"/>
<rect x="7" y="138" width="2" height="1" fill="#fff"/>
<rect x="7" y="139" width="1" height="1" fill="#fff"/>
<rect x="8" y="140" width="1" height="1" fill="#fff"/>
<rect x="7" y="141" width="2" height="1" fill="#fff"/>
<rect x="1" y="144" width="2" height="4" fill="#fff"/>
<rect x="4" y="144" width="2" height="4" fill="#fff"/>
<rect x="7" y="144" width="2" height="1" fill="#fff"/>
<rect x="7" y="145" width="1" height="1" fill="#fff"/>
<rect x="8" y="146" width="1" height="1" fill="#fff"/>
<rect x="7" y="147" width="2" height="1" fill="#fff"/>
<rect x="1" y="150" width="2" height="4" fill="#fff"/>
<rect x="4" y="150" width="2" height="4" fill="#fff"/>
<rect x="7" y="150" width="2" height="1" fill="#fff"/>
<rect x="7" y="151" width="1" height="1" fill="#fff"/>
<rect x="8" y="152" width="1" height="1" fill="#fff"/>
<rect x="7" y="153" width="2" height="1" fill="#fff"/>
<rect x="1" y="155" width="3" height="1" fill="#fff"/>
<rect x="1" y="157" width="2" height="4" fill="#fff"/>
<rect x="4" y="157" width="2" height="4" fill="#fff"/>
<rect x="7" y="157" width="2" height="1" fill="#fff"/>
<rect x="7" y="158" width="1" height="1" fill="#fff"/>
<rect x="8" y="159" width="1" height="1" fill="#fff"/>
<rect x="7" y="160" width="2" height="1" fill="#fff"/>
<rect x="1" y="162" width="3" height="1" fill="#fff"/>
<rect x="1" y="164" width="2" height="4" fill="#fff"/>
<rect x="4" y="164" width="2" height="4" fill="#fff"/>
<rect x="7" y="164" width="2" height="1" fill="#fff"/>
<rect x="7" y="165" width="1" height="1" fill="#fff"/>
<rect x="8" y="166" width="1" height="1" fill="#fff"/>
<rect x="7" y="167" width="2" height="1" fill="#fff"/>
<rect x="1" y="170" width="2" height="4" fill="#fff"/>
<rect x="4" y="170" width="2" height="4" fill="#fff"/>
<rect x="7" y="170" width="2" height="1" fill="#fff"/>
<rect x="7" y="171" width="1" height="1" fill="#fff"/>
<rect x="8" y="172" width="1" height="1" fill="#fff"/>
<rect x="7" y="173" width="2" height="1" fill="#fff"/>
<rect x="1" y="176" width="2" height="4" fill="#fff"/>
<rect x="4" y="176" width="2" height="4" fill="#fff"/>
<rect x="7" y="176" width="2" height="1" fill="#fff"/>
<rect x="7" y="177" width="1" height="1" fill="#fff"/>
<rect x="8" y="178" width="1" height="1" fill="#fff"/>
<rect x="7" y="179" width="2" height="1" fill="#fff"/>
<rect x="1" y="181" width="3" height="1" fill="#fff"/>
<rect x="1" y="183" width="2" height="4" fill="#fff"/>
<rect x="4" y="183" width="2" height="4" fill="#fff"/>
<rect x="7" y="183" width="2" height="1" fill="#fff"/>
<rect x="7" y="184" width="1" height="1" fill="#fff"/>
<rect x="8" y="185" width="1" height="1" fill="#fff"/>
<rect x="7" y="186" width="2" height="1" fill="#fff"/>
<rect x="1" y="188" width="3" height="1" fill="#fff"/>
</g>
<g id="c11">
<rect x="0" y="0" width="11" height="191" fill="#000"/>
<rect x="1" y="1" width="2" height="4" fill="#fff"/>
<rect x="4" y="1" width="2" height="4" fill="#fff"/>
<rect x="7" y="1" width="3" height="1" fill="#fff"/>
<rect x="7" y="2" width="2" height="1" fill="#fff"/>
<rect x="8" y="3" width="2" height="1" fill="#fff"/>
<rect x="7" y="4" width="3" height="1" fill="#fff"/>
<rect x="1" y="6" width="3" height="1" fill="#fff"/>
<rect x="1" y="8" width="2" height="4" fill="#fff"/>
<rect x="4" y="8" width="2" height="4" fill="#fff"/>
<rect x="7" y="8" width="3" height="1" fill="#fff"/>
<rect x="7" y="9" width="2" height="1" fill="#fff"/>
<rect x="8" y="10" width="2" height="1" fill="#fff"/>
<rect x="7" y="11" width="3" height="1" fill="#fff"/>
<rect x="1" y="14" width="2" height="4" fill="#fff"/>
<rect x="4" y="14" width="2" height="4" fill="#fff"/>
<rect x="7" y="14" width="3" height="1" fill="#fff"/>
<rect x="7" y="15" width="2" height="1" fill="#fff"/>
<rect x="8" y="16" width="2" height="1" fill="#fff"/>
<rect x="7" y="17" width="3" height="1" fill="#fff"/>
<rect x="1" y="20" width="2" height="4" fill="#fff"/>
<rect x="4" y="20" width="2" height="4" fill="#fff"/>
<rect x="7" y="20" width="3" height="1" fill="#fff"/>
<rect x="7" y="21" width="2" height="1" fill="#fff"/>
<rect x="8" y="22" width="2" height="1" fill="#fff"/>
<rect x="7" y="23" width="3" height="1" fill="#fff"/>
<rect x="1" y="25" width="3" height="1" fill="#fff"/>
<rect x="1" y="27" width="2" height="4" fill="#fff"/>
<rect x="4" y="27" width="2" height="4" fill="#fff"/>
<rect x="7" y="27" width="3" height="1" fill="#fff"/>
<rect x="7" y="28" width="2" height="1" fill="#fff"/>
<rect x="8" y="29" width="2" height="1" fill="#fff"/>
<rect x="7" y="30" width="3" height="1" fill="#fff"/>
<rect x="1" y="32" width="3" height="1" fill="#fff"/>
<rect x="1" y="34" width="2" height="4" fill="#fff"/>
<rect x="4" y="34" width="2" height="4" fill="#fff"/>
<rect x="7" y="34" width="3" height="1" fill="#fff"/>
<rect x="7" y="35" width="2" height="1" fill="#fff"/>
<rect x="8" y="36" width="2" height="1" fill="#fff"/>
<rect x="7" y="37" width="3" height="1" fill="#fff"/>
<rect x="1" y="40" width="2" height="4" fill="#fff"/>
<rect x="4" y="40" width="2" height="4" fill="#fff"/>
<rect x="7" y="40" width="3" height="1" fill="#fff"/>
<rect x="7" y="41" width="2" height="1" fill="#fff"/>
<rect x="8" y="42" width="2" height="1" fill="#fff"/>
<rect x="7" y="43" width="3" height="1" fill="#fff"/>
<rect x="1" y="46" width="2" height="4" fill="#fff"/>
<rect x="4" y="46" width="2" height="4" fill="#fff"/>
<rect x="7" y="46" width="3" height="1" fill="#fff"/>
<rect x="7" y="47" width="2" height="1" fill="#fff"/>
<rect x="8" y="48" width="2" height="1" fill="#fff"/>
<rect x="7" y="49" width="3" height="1" fill="#fff"/>
<rect x="1" y="51" width="3" height="1" fill="#fff"/>
<rect x="1" y="53" width="2" height="4" fill="#fff"/>
<rect x="4" y="53" width="2" height="4" fill="#fff"/>
<rect x="7" y="53" width="3" height="1" fill="#fff"/>
<rect x="7" y="54" width="2" height="1" fill="#fff"/>
<rect x="8" y="55" width="2" height="1" fill="#fff"/>
<rect x="7" y="56" width="3" height="1" fill="#fff"/>
<rect x="1" y="58" width="3" height="1" fill="#fff"/>
<rect x="1" y="60" width="2" height="4" fill="#fff"/>
<rect x="4" y="60" width="2" height="4" fill="#fff"/>
<rect x="7" y="60" width="3" height="1" fill="#fff"/>
<rect x="7" y="61" width="2" height="1" fill="#fff"/>
<rect x="8" y="62" width="2" height="1" fill="#fff"/>
<rect x="7" y="63" width="3" height="1" fill="#fff"/>
<rect x="1" y="66" width="2" height="4" fill="#fff"/>
<rect x="4" y="66" width="2" height="4" fill="#fff"/>
<rect x="7" y="66" width="3" height="1" fill="#fff"/>
<rect x="7" y="67" width="2" height="1" fill="#fff"/>
<rect x="8" y="68" width="2" height="1" fill="#fff"/>
<rect x="7" y="69" width="3" height="1" fill="#fff"/>
<rect x="1" y="72" width="2" height="4" fill="#fff"/>
<rect x="4" y="72" width="2" height="4" fill="#fff"/>
<rect x="7" y="72" width="3" height="1" fill="#fff"/>
<rect x="7" y="73" width="2" height="1" fill="#fff"/>
<rect x="8" y="74" width="2" height="1" fill="#fff"/>
<rect x="7" y="75" width="3" height="1" fill="#fff"/>
<rect x="1" y="77" width="3" height="1" fill="#fff"/>
<rect x="1" y="79" width="2" height="4" fill="#fff"/>
<rect x="4" y="79" width="2" height="4" fill="#fff"/>
<rect x="7" y="79" width="3" height="1" fill="#fff"/>
<rect x="7" y="80" width="2" height="1" fill="#fff"/>
<rect x="8" y="81" width="2" height="1" fill="#fff"/>
<rect x="7" y="82" width="3" height="1" fill="#fff"/>
<rect x="1" y="84" width="3" height="1" fill="#fff"/>
<rect x="1" y="86" width="2" height="4" fill="#fff"/>
<rect x="4" y="86" width="2" height="4" fill="#fff"/>
<rect x="7" y="86" width="3" height="1" fill="#fff"/>
<rect x="7" y="87" width="2" height="1" fill="#fff"/>
<rect x="8" y="88" width="2" height="1" fill="#fff"/>
<rect x="7" y="89" width="3" height="1" fill="#fff"/>
<rect x="1" y="92" width="2" height="4" fill="#fff"/>
<rect x="4" y="92" width="2" height="4" fill="#fff"/>
<rect x="7" y="92" width="3" height="1" fill="#fff"/>
<rect x="7" y="93" width="2" height="1" fill="#fff"/>
<rect x="8" y="94" width="2" height="1" fill="#fff"/>
<rect x="7" y="95" width="3" height="1" fill="#fff"/>
<rect x="1" y="98" width="2" height="4" fill="#fff"/>
<rect x="4" y="98" width="2" height="4" fill="#fff"/>
<rect x="7" y="98" width="3" height="1" fill="#fff"/>
<rect x="7" y="99" width="2" height="1" fill="#fff"/>
<rect x="8" y="100" width="2" height="1" fill="#fff"/>
<rect x="7" y="101" width="3" height="1" fill="#fff"/>
<rect x="1" y="103" width="3" height="1" fill="#fff"/>
<rect x="1" y="105" width="2" height="4" fill="#fff"/>
<rect x="4" y="105" width="2" height="4" fill="#fff"/>
<rect x="7" y="105" width="3" height="1" fill="#fff"/>
<rect x="7" y="106" width="2" height="1" fill="#fff"/>
<rect x="8" y="107" width="2" height="1" fill="#fff"/>
<rect x="7" y="108" width="3" height="1" fill="#fff"/>
<rect x="1" y="110" width="3" height="1" fill="#fff"/>
<rect x="1" y="112" width="2" height="4" fill="#fff"/>
<rect x="4" y="112" width="2" height="4" fill="#fff"/>
<rect x="7" y="112" width="3" height="1" fill="#fff"/>
<rect x="7" y="113" width="2" height="1" fill="#fff"/>
<rect x="8" y="114" width="2" height="1" fill="#fff"/>
<rect x="7" y="115" width="3" height="1" fill="#fff"/>
<rect x="1" y="118" width="2" height="4" fill="#fff"/>
<rect x="4" y="118" width="2" height="4" fill="#fff"/>
<rect x="7" y="118" width="3" height="1" fill="#fff"/>
<rect x="7" y="119" width="2" height="1" fill="#fff"/>
<rect x="8" y="120" width="2" height="1" fill="#fff"/>
<rect x="7" y="121" width="3" height="1" fill="#fff"/>
<rect x="1" y="124" width="2" height="4" fill="#fff"/>
<rect x="4" y="124" width="2" height="4" fill="#fff"/>
<rect x="7" y="124" width="3" height="1" fill="#fff"/>
<rect x="7" y="125" width="2" height="1" fill="#fff"/>
<rect x="8" y="126" width="2" height="1" fill="#fff"/>
<rect x="7" y="127" width="3" height="1" fill="#fff"/>
<rect x="1" y="129" width="3" height="1" fill="#fff"/>
<rect x="1" y="131" width="2" height="4" fill="#fff"/>
<rect x="4" y="131" width="2" height="4" fill="#fff"/>
<rect x="7" y="131" width="3" height="1" fill="#fff"/>
<rect x="7" y="132" width="2" height="1" fill="#fff"/>
<rect x="8" y="133" width="2" height="1" fill="#fff"/>
<rect x="7" y="134" width="3" height="1" fill="#fff"/>
<rect x="1" y="136" width="3" height="1" fill="#fff"/>
<rect x="1" y="138" width="2" height="4" fill="#fff"/>
<rect x="4" y="138" width="2" height="4" fill="#fff"/>
<rect x="7" y="138" width="3" height="1" fill="#fff"/>
<rect x="7" y="139" width="2" height="1" fill="#fff"/>
<rect x="8" y="140" width="2" height="1" fill="#fff"/>
<rect x="7" y="141" width="3" height="1" fill="#fff"/>
<rect x="1" y="144" width="2" height="4" fill="#fff"/>
<rect x="4" y="144" width="2" height="4" fill="#fff"/>
<rect x="7" y="144" width="3" height="1" fill="#fff"/>
<rect x="7" y="145" width="2" height="1" fill="#fff"/>
<rect x="8" y="146" width="2" height="1" fill="#fff"/>
<rect x="7" y="147" width="3" height="1" fill="#fff"/>
<rect x="1" y="150" width="2" height="4" fill="#fff"/>
<rect x="4" y="150" width="2" height="4" fill="#fff"/>
<rect x="7" y="150" width="3" height="1" fill="#fff"/>
<rect x="7" y="151" width="2" height="1" fill="#fff"/>
<rect x="8" y="152" width="2" height="1" fill="#fff"/>
<rect x="7" y="153" width="3" height="1" fill="#fff"/>
<rect x="1" y="155" width="3" height="1" fill="#fff"/>
<rect x="1" y="157" width="2" height="4" fill="#fff"/>
<rect x="4" y="157" width="2" height="4" fill="#fff"/>
<rect x="7" y="157" width="3" height="1" fill="#fff"/>
<rect x="7" y="158" width="2" height="1" fill="#fff"/>
<rect x="8" y="159" width="2" height="1" fill="#fff"/>
<rect x="7" y="160" width="3" height="1" fill="#fff"/>
<rect x="1" y="162" width="3" height="1" fill="#fff"/>
<rect x="1" y="164" width="2" height="4" fill="#fff"/>
<rect x="4" y="164" width="2" height="4" fill="#fff"/>
<rect x="7" y="164" width="3" height="1" fill="#fff"/>
<rect x="7" y="165" width="2" height="1" fill="#fff"/>
<rect x="8" y="166" width="2" height="1" fill="#fff"/>
<rect x="7" y="167" width="3" height="1" fill="#fff"/>
<rect x="1" y="170" width="2" height="4" fill="#fff"/>
<rect x="4" y="170" width="2" height="4" fill="#fff"/>
<rect x="7" y="170" width="3" height="1" fill="#fff"/>
<rect x="7" y="171" width="2" height="1" fill="#fff"/>
<rect x="8" y="172" width="2" height="1" fill="#fff"/>
<rect x="7" y="173" width="3" height="1" fill="#fff"/>
<rect x="1" y="176" width="2" height="4" fill="#fff"/>
<rect x="4" y="176" width="2" height="4" fill="#fff"/>
<rect x="7" y="176" width="3" height="1" fill="#fff"/>
<rect x="7" y="177" width="2" height="1" fill="#fff"/>
<rect x="8" y="178" width="2" height="1" fill="#fff"/>
<rect x="7" y="179" width="3" height="1" fill="#fff"/>
<rect x="1" y="181" width="3" height="1" fill="#fff"/>
<rect x="1" y="183" width="2" height="4" fill="#fff"/>
<rect x="4" y="183" width="2" height="4" fill="#fff"/>
<rect x="7" y="183" width="3" height="1" fill="#fff"/>
<rect x="7" y="184" width="2" height="1" fill="#fff"/>
<rect x="8" y="185" width="2" height="1" fill="#fff"/>
<rect x="7" y="186" width="3" height="1" fill="#fff"/>
<rect x="1" y="188" width="3" height="1" fill="#fff"/>
</g></defs>
<path d="M421.5,608.5 V384.5 H436.5 V608.5 H432.0 V607.5 H431.0 V606.5 H430.0 V605.5 H428.0 V606.5 H427.0 V607.5 H426.0 V608.5 Z" fill="#fff" stroke="#000" stroke-width="1"/>
<use href="#c10" x="424" y="402"/>
<rect x="427.00" y="390.00" width="6.00" height="6.00" fill="#000" />
<rect x="424.00" y="394.00" width="6.00" height="5.00" fill="#000" />
<rect x="427.00" y="399.00" width="4.00" height="3.00" fill="#000" />
<rect x="431.00" y="401.00" width="3.00" height="1.00" fill="#000" />
<rect x="428.00" y="391.00" width="1.00" height="3.00" fill="#fff" />
<rect x="431.00" y="391.00" width="1.00" height="4.00" fill="#fff" />
<rect x="427.00" y="396.00" width="2.00" height="1.00" fill="#fff" />
<rect x="428.00" y="593.00" width="3.00" height="9.00" fill="#000" />
<rect x="423.00" y="597.00" width="5.00" height="3.00" fill="#000" />
<path d="M439.5,608.5 V385.5 H453.5 V608.5 H449.5 V607.5 H448.5 V606.5 H447.5 V605.5 H445.5 V606.5 H444.5 V607.5 H443.5 V608.5 Z" fill="#fff" stroke="#000" stroke-width="1"/>
<use href="#c11" x="441" y="402"/>
<rect x="444.00" y="390.00" width="6.00" height="6.00" fill="#000" />
<rect x="441.00" y="394.00" width="6.00" height="5.00" fill="#000" />
<rect x="444.00" y="399.00" width="4.00" height="3.00" fill="#000" />
<rect x="448.00" y="401.00" width="4.00" height="1.00" fill="#000" />
<rect x="444.00" y="396.00" width="2.00" height="1.00" fill="#fff" />
<rect x="445.00" y="593.00" width="3.00" height="9.00" fill="#000" />
<rect x="440.00" y="597.00" width="5.00" height="3.00" fill="#000" />
<path d="M456.5,608.5 V384.5 H471.5 V608.5 H467.0 V607.5 H466.0 V606.5 H465.0 V605.5 H463.0 V606.5 H462.0 V607.5 H461.0 V608.5 Z" fill="#fff" stroke="#000" stroke-width="1"/>
<use href="#c10" x="459" y="402"/>
<rect x="462.00" y="390.00" width="6.00" height="6.00" fill="#000" />
<rect x="459.00" y="394.00" width="6.00" height="5.00" fill="#000" />
<rect x="462.00" y="399.00" width="4.00" height="3.00" fill="#000" />
<rect x="466.00" y="401.00" width="3.00" height="1.00" fill="#000" />
<rect x="463.00" y="391.00" width="1.00" height="3.00" fill="#fff" />
<rect x="466.00" y="391.00" width="1.00" height="4.00" fill="#fff" />
<rect x="462.00" y="396.00" width="2.00" height="1.00" fill="#fff" />
<rect x="463.00" y="593.00" width="3.00" height="9.00" fill="#000" />
<rect x="458.00" y="597.00" width="5.00" height="3.00" fill="#000" />
<path d="M474.5,608.5 V385.5 H489.5 V608.5 H485.0 V607.5 H484.0 V606.5 H483.0 V605.5 H481.0 V606.5 H480.0 V607.5 H479.0 V608.5 Z" fill="#fff" stroke="#000" stroke-width="1"/>
<use href="#c10" x="477" y="402"/>
<rect x="480.00" y="390.00" width="6.00" height="6.00" fill="#000" />
<rect x="477.00" y="394.00" width="6.00" height="5.00" fill="#000" />
<rect x="480.00" y="399.00" width="4.00" height="3.00" fill="#000" />
<rect x="484.00" y="401.00" width="3.00" height="1.00" fill="#000" />
<rect x="484.00" y="391.00" width="1.00" height="4.00" fill="#fff" />
<rect x="480.00" y="396.00" width="2.00" height="1.00" fill="#fff" />
<rect x="481.00" y="593.00" width="3.00" height="9.00" fill="#000" />
<rect x="476.00" y="597.00" width="5.00" height="3.00" fill="#000" />
<rect x="436.00" y="432.00" width="4.00" height="1.00" fill="#000" />
<rect x="436.00" y="434.00" width="4.00" height="1.00" fill="#000" />
<rect x="436.00" y="555.00" width="4.00" height="1.00" fill="#000" />
<rect x="436.00" y="557.00" width="4.00" height="1.00" fill="#000" />
<rect x="471.00" y="432.00" width="4.00" height="1.00" fill="#000" />
<rect x="471.00" y="434.00" width="4.00" height="1.00" fill="#000" />
<rect x="471.00" y="555.00" width="4.00" height="1.00" fill="#000" />
<rect x="471.00" y="557.00" width="4.00" height="1.00" fill="#000" />
<path d="M496.5,608.5 V384.5 H511.5 V608.5 H507.0 V607.5 H506.0 V606.5 H505.0 V605.5 H503.0 V606.5 H502.0 V607.5 H501.0 V608.5 Z" fill="#fff" stroke="#000" stroke-width="1"/>
<use href="#c10" x="499" y="402"/>
<rect x="502.00" y="390.00" width="6.00" height="6.00" fill="#000" />
<rect x="499.00" y="394.00" width="6.00" height="5.00" fill="#000" />
<rect x="502.00" y="399.00" width="4.00" height="3.00" fill="#000" />
<rect x="506.00" y="401.00" width="3.00" height="1.00" fill="#000" />
<rect x="503.00" y="391.00" width="1.00" height="3.00" fill="#fff" />
<rect x="506.00" y="391.00" width="1.00" height="4.00" fill="#fff" />
<rect x="502.00" y="396.00" width="2.00" height="1.00" fill="#fff" />
<rect x="503.00" y="593.00" width="3.00" height="9.00" fill="#000" />
<rect x="498.00" y="597.00" width="5.00" height="3.00" fill="#000" />
<path d="M514.5,608.5 V385.5 H528.5 V608.5 H524.5 V607.5 H523.5 V606.5 H522.5 V605.5 H520.5 V606.5 H519.5 V607.5 H518.5 V608.5 Z" fill="#fff" stroke="#000" stroke-width="1"/>
<use href="#c11" x="516" y="402"/>
<rect x="519.00" y="390.00" width="6.00" height="6.00" fill="#000" />
<rect x="516.00" y="394.00" width="6.00" height="5.00" fill="#000" />
<rect x="519.00" y="399.00" width="4.00" height="3.00" fill="#000" />
<rect x="523.00" y="401.00" width="4.00" height="1.00" fill="#000" />
<rect x="519.00" y="396.00" width="2.00" height="1.00" fill="#fff" />
<rect x="520.00" y="593.00" width="3.00" height="9.00" fill="#000" />
<rect x="515.00" y="597.00" width="5.00" height="3.00" fill="#000" />
<path d="M531.5,608.5 V384.5 H546.5 V608.5 H542.0 V607.5 H541.0 V606.5 H540.0 V605.5 H538.0 V606.5 H537.0 V607.5 H536.0 V608.5 Z" fill="#fff" stroke="#000" stroke-width="1"/>
<use href="#c10" x="534" y="402"/>
<rect x="537.00" y="390.00" width="6.00" height="6.00" fill="#000" />
<rect x="534.00" y="394.00" width="6.00" height="5.00" fill="#000" />
<rect x="537.00" y="399.00" width="4.00" height="3.00" fill="#000" />
<rect x="541.00" y="401.00" width="3.00" height="1.00" fill="#000" />
<rect x="538.00" y="391.00" width="1.00" height="3.00" fill="#fff" />
<rect x="541.00" y="391.00" width="1.00" height="4.00" fill="#fff" />
<rect x="537.00" y="396.00" width="2.00" height="1.00" fill="#fff" />
<rect x="538.00" y="593.00" width="3.00" height="9.00" fill="#000" />
<rect x="533.00" y="597.00" width="5.00" height="3.00" fill="#000" />
<path d="M549.5,608.5 V385.5 H564.5 V608.5 H560.0 V607.5 H559.0 V606.5 H558.0 V605.5 H556.0 V606.5 H555.0 V607.5 H554.0 V608.5 Z" fill="#fff" stroke="#000" stroke-width="1"/>
<use href="#c10" x="552" y="402"/>
<rect x="555.00" y="390.00" width="6.00" height="6.00" fill="#000" />
<rect x="552.00" y="394.00" width="6.00" height="5.00" fill="#000" />
<rect x="555.00" y="399.00" width="4.00" height="3.00" fill="#000" />
<rect x="559.00" y="401.00" width="3.00" height="1.00" fill="#000" />
<rect x="559.00" y="391.00" width="1.00" height="4.00" fill="#fff" />
<rect x="555.00" y="396.00" width="2.00" height="1.00" fill="#fff" />
<rect x="556.00" y="593.00" width="3.00" height="9.00" fill="#000" />
<rect x="551.00" y="597.00" width="5.00" height="3.00" fill="#000" />
<rect x="511.00" y="432.00" width="4.00" height="1.00" fill="#000" />
<rect x="511.00" y="434.00" width="4.00" height="1.00" fill="#000" />
<rect x="511.00" y="555.00" width="4.00" height="1.00" fill="#000" />
<rect x="511.00" y="557.00" width="4.00" height="1.00" fill="#000" />
<rect x="546.00" y="432.00" width="4.00" height="1.00" fill="#000" />
<rect x="546.00" y="434.00" width="4.00" height="1.00" fill="#000" />
<rect x="546.00" y="555.00" width="4.00" height="1.00" fill="#000" />
<rect x="546.00" y="557.00" width="4.00" height="1.00" fill="#000" />
<path d="M571.5,608.5 V384.5 H586.5 V608.5 H582.0 V607.5 H581.0 V606.5 H580.0 V605.5 H578.0 V606.5 H577.0 V607.5 H576.0 V608.5 Z" fill="#fff" stroke="#000" stroke-width="1"/>
<use href="#c10" x="574" y="402"/>
<rect x="577.00" y="390.00" width="6.00" height="6.00" fill="#000" />
<rect x="574.00" y="394.00" width="6.00" height="5.00" fill="#000" />
<rect x="577.00" y="399.00" width="4.00" height="3.00" fill="#000" />
<rect x="581.00" y="401.00" width="3.00" height="1.00" fill="#000" />
<rect x="578.00" y="391.00" width="1.00" height="3.00" fill="#fff" />
<rect x="581.00" y="391.00" width="1.00" height="4.00" fill="#fff" />
<rect x="577.00" y="396.00" width="2.00" height="1.00" fill="#fff" />
<rect x="578.00" y="593.00" width="3.00" height="9.00" fill="#000" />
<rect x="573.00" y="597.00" width="5.00" height="3.00" fill="#000" />
<path d="M589.5,608.5 V385.5 H603.5 V608.5 H599.5 V607.5 H598.5 V606.5 H597.5 V605.5 H595.5 V606.5 H594.5 V607.5 H593.5 V608.5 Z" fill="#fff" stroke="#000" stroke-width="1"/>
<use href="#c11" x="591" y="402"/>
<rect x="594.00" y="390.00" width="6.00" height="6.00" fill="#000" />
<rect x="591.00" y="394.00" width="6.00" height="5.00" fill="#000" />
<rect x="594.00" y="399.00" width="4.00" height="3.00" fill="#000" />
<rect x="598.00" y="401.00" width="4.00" height="1.00" fill="#000" />
<rect x="594.00" y="396.00" width="2.00" height="1.00" fill="#fff" />
<rect x="595.00" y="593.00" width="3.00" height="9.00" fill="#000" />
<rect x="590.00" y="597.00" width="5.00" height="3.00" fill="#000" />
<path d="M606.5,608.5 V384.5 H621.5 V608.5 H617.0 V607.5 H616.0 V606.5 H615.0 V605.5 H613.0 V606.5 H612.0 V607.5 H611.0 V608.5 Z" fill="#fff" stroke="#000" stroke-width="1"/>
<use href="#c10" x="609" y="402"/>
<rect x="612.00" y="390.00" width="6.00" height="6.00" fill="#000" />
<rect x="609.00" y="394.00" width="6.00" height="5.00" fill="#000" />
<rect x="612.00" y="399.00" width="4.00" height="3.00" fill="#000" />
<rect x="616.00" y="401.00" width="3.00" height="1.00" fill="#000" />
<rect x="613.00" y="391.00" width="1.00" height="3.00" fill="#fff" />
<rect x="616.00" y="391.00" width="1.00" height="4.00" fill="#fff" />
<rect x="612.00" y="396.00" width="2.00" height="1.00" fill="#fff" />
<rect x="613.00" y="593.00" width="3.00" height="9.00" fill="#000" />
<rect x="608.00" y="597.00" width="5.00" height="3.00" fill="#000" />
<path d="M624.5,608.5 V385.5 H639.5 V608.5 H635.0 V607.5 H634.0 V606.5 H633.0 V605.5 H631.0 V606.5 H630.0 V607.5 H629.0 V608.5 Z" fill="#fff" stroke="#000" stroke-width="1"/>
<use href="#c10" x="627" y="402"/>
<rect x="630.00" y="390.00" width="6.00" height="6.00" fill="#000" />
<rect x="627.00" y="394.00" width="6.00" height="5.00" fill="#000" />
<rect x="630.00" y="399.00" width="4.00" height="3.00" fill="#000" />
<rect x="634.00" y="401.00" width="3.00" height="1.00" fill="#000" />
<rect x="634.00" y="391.00" width="1.00" height="4.00" fill="#fff" />
<rect x="630.00" y="396.00" width="2.00" height="1.00" fill="#fff" />
<rect x="631.00" y="593.00" width="3.00" height="9.00" fill="#000" />
<rect x="626.00" y="597.00" width="5.00" height="3.00" fill="#000" />
<rect x="586.00" y="432.00" width="4.00" height="1.00" fill="#000" />
<rect x="586.00" y="434.00" width="4.00" height="1.00" fill="#000" />
<rect x="586.00" y="555.00" width="4.00" height="1.00" fill="#000" />
<rect x="586.00" y="557.00" width="4.00" height="1.00" fill="#000" />
<rect x="621.00" y="432.00" width="4.00" height="1.00" fill="#000" />
<rect x="621.00" y="434.00" width="4.00" height="1.00" fill="#000" />
<rect x="621.00" y="555.00" width="4.00" height="1.00" fill="#000" />
<rect x="621.00" y="557.00" width="4.00" height="1.00" fill="#000" />
<path d="M646.5,608.5 V384.5 H661.5 V608.5 H657.0 V607.5 H656.0 V606.5 H655.0 V605.5 H653.0 V606.5 H652.0 V607.5 H651.0 V608.5 Z" fill="#fff" stroke="#000" stroke-width="1"/>
<use href="#c10" x="649" y="402"/>
<rect x="652.00" y="390.00" width="6.00" height="6.00" fill="#000" />
<rect x="649.00" y="394.00" width="6.00" height="5.00" fill="#000" />
<rect x="652.00" y="399.00" width="4.00" height="3.00" fill="#000" />
<rect x="656.00" y="401.00" width="3.00" height="1.00" fill="#000" />
<rect x="653.00" y="391.00" width="1.00" height="3.00" fill="#fff" />
<rect x="656.00" y="391.00" width="1.00" height="4.00" fill="#fff" />
<rect x="652.00" y="396.00" width="2.00" height="1.00" fill="#fff" />
<rect x="653.00" y="593.00" width="3.00" height="9.00" fill="#000" />
<rect x="648.00" y="597.00" width="5.00" height="3.00" fill="#000" />
<path d="M664.5,608.5 V385.5 H678.5 V608.5 H674.5 V607.5 H673.5 V606.5 H672.5 V605.5 H670.5 V606.5 H669.5 V607.5 H668.5 V608.5 Z" fill="#fff" stroke="#000" stroke-width="1"/>
<use href="#c11" x="666" y="402"/>
<rect x="669.00" y="390.00" width="6.00" height="6.00" fill="#000" />
<rect x="666.00" y="394.00" width="6.00" height="5.00" fill="#000" />
<rect x="669.00" y="399.00" width="4.00" height="3.00" fill="#000" />
<rect x="673.00" y="401.00" width="4.00" height="1.00" fill="#000" />
<rect x="669.00" y="396.00" width="2.00" height="1.00" fill="#fff" />
<rect x="670.00" y="593.00" width="3.00" height="9.00" fill="#000" />
<rect x="665.00" y="597.00" width="5.00" height="3.00" fill="#000" />
<path d="M681.5,608.5 V384.5 H696.5 V608.5 H692.0 V607.5 H691.0 V606.5 H690.0 V605.5 H688.0 V606.5 H687.0 V607.5 H686.0 V608.5 Z" fill="#fff" stroke="#000" stroke-width="1"/>
<use href="#c10" x="684" y="402"/>
<rect x="687.00" y="390.00" width="6.00" height="6.00" fill="#000" />
<rect x="684.00" y="394.00" width="6.00" height="5.00" fill="#000" />
<rect x="687.00" y="399.00" width="4.00" height="3.00" fill="#000" />
<rect x="691.00" y="401.00" width="3.00" height="1.00" fill="#000" />
<rect x="688.00" y="391.00" width="1.00" height="3.00" fill="#fff" />
<rect x="691.00" y="391.00" width="1.00" height="4.00" fill="#fff" />
<rect x="687.00" y="396.00" width="2.00" height="1.00" fill="#fff" />
<rect x="688.00" y="593.00" width="3.00" height="9.00" fill="#000" />
<rect x="683.00" y="597.00" width="5.00" height="3.00" fill="#000" />
<path d="M699.5,608.5 V385.5 H714.5 V608.5 H710.0 V607.5 H709.0 V606.5 H708.0 V605.5 H706.0 V606.5 H705.0 V607.5 H704.0 V608.5 Z" fill="#fff" stroke="#000" stroke-width="1"/>
<use href="#c10" x="702" y="402"/>
<rect x="705.00" y="390.00" width="6.00" height="6.00" fill="#000" />
<rect x="702.00" y="394.00" width="6.00" height="5.00" fill="#000" />
<rect x="705.00" y="399.00" width="4.00" height="3.00" fill="#000" />
<rect x="709.00" y="401.00" width="3.00" height="1.00" fill="#000" />
<rect x="709.00" y="391.00" width="1.00" height="4.00" fill="#fff" />
<rect x="705.00" y="396.00" width="2.00" height="1.00" fill="#fff" />
<rect x="706.00" y="593.00" width="3.00" height="9.00" fill="#000" />
<rect x="701.00" y="597.00" width="5.00" height="3.00" fill="#000" />
<rect x="661.00" y="432.00" width="4.00" height="1.00" fill="#000" />
<rect x="661.00" y="434.00" width="4.00" height="1.00" fill="#000" />
<rect x="661.00" y="555.00" width="4.00" height="1.00" fill="#000" />
<rect x="661.00" y="557.00" width="4.00" height="1.00" fill="#000" />
<rect x="696.00" y="432.00" width="4.00" height="1.00" fill="#000" />
<rect x="696.00" y="434.00" width="4.00" height="1.00" fill="#000" />
<rect x="696.00" y="555.00" width="4.00" height="1.00" fill="#000" />
<rect x="696.00" y="557.00" width="4.00" height="1.00" fill="#000" />
<rect x="425.00" y="487.00" width="61.60" height="18.70" fill="#000" />
<rect x="426.00" y="490.00" width="1.00" height="1.00" fill="#fff" />
<rect x="484.60" y="490.00" width="1.00" height="1.00" fill="#fff" />
<rect x="426.00" y="493.00" width="1.00" height="1.00" fill="#fff" />
<rect x="484.60" y="493.00" width="1.00" height="1.00" fill="#fff" />
<rect x="426.00" y="496.00" width="1.00" height="1.00" fill="#fff" />
<rect x="484.60" y="496.00" width="1.00" height="1.00" fill="#fff" />
<rect x="426.00" y="499.00" width="1.00" height="1.00" fill="#fff" />
<rect x="484.60" y="499.00" width="1.00" height="1.00" fill="#fff" />
<rect x="426.00" y="502.00" width="1.00" height="1.00" fill="#fff" />
<rect x="484.60" y="502.00" width="1.00" height="1.00" fill="#fff" />
<rect x="426.00" y="488.00" width="1.00" height="1.00" fill="#fff" />
<rect x="484.60" y="504.00" width="1.00" height="1.00" fill="#fff" />
<rect x="428.00" y="490.00" width="55.20" height="12.70" fill="#fff" />
<rect x="500.00" y="487.00" width="61.60" height="18.70" fill="#000" />
<rect x="501.00" y="490.00" width="1.00" height="1.00" fill="#fff" />
<rect x="559.60" y="490.00" width="1.00" height="1.00" fill="#fff" />
<rect x="501.00" y="493.00" width="1.00" height="1.00" fill="#fff" />
<rect x="559.60" y="493.00" width="1.00" height="1.00" fill="#fff" />
<rect x="501.00" y="496.00" width="1.00" height="1.00" fill="#fff" />
<rect x="559.60" y="496.00" width="1.00" height="1.00" fill="#fff" />
<rect x="501.00" y="499.00" width="1.00" height="1.00" fill="#fff" />
<rect x="559.60" y="499.00" width="1.00" height="1.00" fill="#fff" />
<rect x="501.00" y="502.00" width="1.00" height="1.00" fill="#fff" />
<rect x="559.60" y="502.00" width="1.00" height="1.00" fill="#fff" />
<rect x="501.00" y="488.00" width="1.00" height="1.00" fill="#fff" />
<rect x="559.60" y="504.00" width="1.00" height="1.00" fill="#fff" />
<rect x="503.00" y="490.00" width="55.20" height="12.70" fill="#fff" />
<rect x="575.00" y="487.00" width="61.60" height="18.70" fill="#000" />
<rect x="576.00" y="490.00" width="1.00" height="1.00" fill="#fff" />
<rect x="634.60" y="490.00" width="1.00" height="1.00" fill="#fff" />
<rect x="576.00" y="493.00" width="1.00" height="1.00" fill="#fff" />
<rect x="634.60" y="493.00" width="1.00" height="1.00" fill="#fff" />
<rect x="576.00" y="496.00" width="1.00" height="1.00" fill="#fff" />
<rect x="634.60" y="496.00" width="1.00" height="1.00" fill="#fff" />
<rect x="576.00" y="499.00" width="1.00" height="1.00" fill="#fff" />
<rect x="634.60" y="499.00" width="1.00" height="1.00" fill="#fff" />
<rect x="576.00" y="502.00" width="1.00" height="1.00" fill="#fff" />
<rect x="634.60" y="502.00" width="1.00" height="1.00" fill="#fff" />
<rect x="576.00" y="488.00" width="1.00" height="1.00" fill="#fff" />
<rect x="634.60" y="504.00" width="1.00" height="1.00" fill="#fff" />
<rect x="578.00" y="490.00" width="55.20" height="12.70" fill="#fff" />
<rect x="650.00" y="487.00" width="61.60" height="18.70" fill="#000" />
<rect x="651.00" y="490.00" width="1.00" height="1.00" fill="#fff" />
<rect x="709.60" y="490.00" width="1.00" height="1.00" fill="#fff" />
<rect x="651.00" y="493.00" width="1.00" height="1.00" fill="#fff" />
<rect x="709.60" y="493.00" width="1.00" height="1.00" fill="#fff" />
<rect x="651.00" y="496.00" width="1.00" height="1.00" fill="#fff" />
<rect x="709.60" y="496.00" width="1.00" height="1.00" fill="#fff" />
<rect x="651.00" y="499.00" width="1.00" height="1.00" fill="#fff" />
<rect x="709.60" y="499.00" width="1.00" height="1.00" fill="#fff" />
<rect x="651.00" y="502.00" width="1.00" height="1.00" fill="#fff" />
<rect x="709.60" y="502.00" width="1.00" height="1.00" fill="#fff" />
<rect x="651.00" y="488.00" width="1.00" height="1.00" fill="#fff" />
<rect x="709.60" y="504.00" width="1.00" height="1.00" fill="#fff" />
<rect x="653.00" y="490.00" width="55.20" height="12.70" fill="#fff" />
<path d="M742.5,387 Q743,383.5 747,383.3 Q750,383.5 752.5,385 H758.5 Q762,383.6 765.5,384 L768.5,385 H773 Q776,383.2 778.5,383.3 Q782.3,384 782.5,387.5 V406 Q782,410 778,410.3 Q775.5,410.2 773,408.6 H767 Q763.5,410.6 761.5,410.4 L758.5,408.6 H752.5 Q749,410.4 746.5,410.2 Q742.8,409.5 742.5,406 Z" fill="#fff" stroke="#000" stroke-width="1"/>
<rect x="731.00" y="419.00" width="7.00" height="19.00" fill="#000" />
<rect x="732.00" y="420.00" width="5.00" height="1.00" fill="#fff" />
<rect x="732.00" y="425.40" width="5.00" height="1.00" fill="#fff" />
<rect x="732.00" y="431.40" width="5.00" height="1.00" fill="#fff" />
<rect x="733.00" y="422.00" width="3.00" height="2.20" fill="#fff" />
<polygon shape-rendering="geometricPrecision" points="733.80,438.00 731.50,458.00 737.50,458.00 735.20,438.00" fill="#000"/>
<rect x="717.30" y="455.00" width="33.20" height="18.40" rx="4" fill="#000"/>
<rect x="718.90" y="456.60" width="29.40" height="14.40" rx="2.5" fill="#fff"/>
<line shape-rendering="geometricPrecision" x1="734.50" y1="447.00" x2="734.50" y2="458.00" stroke="#fff" stroke-width="1.1"/>
<polygon points="759,448 783.2,448 783.2,444 786,444 786,441 790,441 790,492 786,492 786,489 783.2,489 783.2,485 759,485" fill="#000"/>
<rect x="752.6" y="458" width="4" height="7" fill="#fff" stroke="#000" stroke-width="0.9"/>
<rect x="752.6" y="469" width="4" height="7.6" fill="#fff" stroke="#000" stroke-width="0.9"/>
<rect x="756.4" y="455.5" width="2.8" height="10.5" fill="#fff" stroke="#000" stroke-width="0.8"/>
<rect x="756.4" y="467.5" width="2.8" height="11" fill="#fff" stroke="#000" stroke-width="0.8"/>
<rect x="747.5" y="496.5" width="23" height="110.6" fill="#fff" stroke="#000" stroke-width="1"/>
<rect x="763.00" y="497.00" width="1.00" height="110.00" fill="#000" />
<rect x="750.00" y="497.00" width="2.00" height="1.60" fill="#000" />
<rect x="753.00" y="497.00" width="3.00" height="1.00" fill="#000" />
<rect x="750.9" y="501.3" width="5.6" height="6.2" fill="#fff" stroke="#000" stroke-width="1"/>
<rect x="758.6" y="496.7" width="2" height="5.6" fill="#fff" stroke="#000" stroke-width="0.9"/>
<path d="M764,497.9 h1 v-1 h2.4 v1 h1 v3.4 h-1 v1.2 h-2.4 v-1.2 h-1 z" fill="#000"/>
<rect x="750.9" y="510.7" width="5.6" height="6.2" fill="#fff" stroke="#000" stroke-width="1"/>
<rect x="758.6" y="506.1" width="2" height="5.6" fill="#fff" stroke="#000" stroke-width="0.9"/>
<path d="M764,507.3 h1 v-1 h2.4 v1 h1 v3.4 h-1 v1.2 h-2.4 v-1.2 h-1 z" fill="#000"/>
<rect x="750.9" y="520.1" width="5.6" height="6.2" fill="#fff" stroke="#000" stroke-width="1"/>
<rect x="758.6" y="515.5" width="2" height="5.6" fill="#fff" stroke="#000" stroke-width="0.9"/>
<path d="M764,516.7 h1 v-1 h2.4 v1 h1 v3.4 h-1 v1.2 h-2.4 v-1.2 h-1 z" fill="#000"/>
<rect x="750.9" y="529.5" width="5.6" height="6.2" fill="#fff" stroke="#000" stroke-width="1"/>
<rect x="758.6" y="524.9" width="2" height="5.6" fill="#fff" stroke="#000" stroke-width="0.9"/>
<path d="M764,526.1 h1 v-1 h2.4 v1 h1 v3.4 h-1 v1.2 h-2.4 v-1.2 h-1 z" fill="#000"/>
<rect x="750.9" y="538.9" width="5.6" height="6.2" fill="#fff" stroke="#000" stroke-width="1"/>
<rect x="758.6" y="534.3" width="2" height="5.6" fill="#fff" stroke="#000" stroke-width="0.9"/>
<path d="M764,535.5 h1 v-1 h2.4 v1 h1 v3.4 h-1 v1.2 h-2.4 v-1.2 h-1 z" fill="#000"/>
<rect x="750.9" y="548.3" width="5.6" height="6.2" fill="#fff" stroke="#000" stroke-width="1"/>
<rect x="758.6" y="543.7" width="2" height="5.6" fill="#fff" stroke="#000" stroke-width="0.9"/>
<path d="M764,544.9 h1 v-1 h2.4 v1 h1 v3.4 h-1 v1.2 h-2.4 v-1.2 h-1 z" fill="#000"/>
<rect x="750.9" y="557.7" width="5.6" height="6.2" fill="#fff" stroke="#000" stroke-width="1"/>
<rect x="758.6" y="553.1" width="2" height="5.6" fill="#fff" stroke="#000" stroke-width="0.9"/>
<path d="M764,554.3 h1 v-1 h2.4 v1 h1 v3.4 h-1 v1.2 h-2.4 v-1.2 h-1 z" fill="#000"/>
<rect x="750.9" y="567.1" width="5.6" height="6.2" fill="#fff" stroke="#000" stroke-width="1"/>
<rect x="758.6" y="562.5" width="2" height="5.6" fill="#fff" stroke="#000" stroke-width="0.9"/>
<path d="M764,563.7 h1 v-1 h2.4 v1 h1 v3.4 h-1 v1.2 h-2.4 v-1.2 h-1 z" fill="#000"/>
<rect x="750.9" y="576.5" width="5.6" height="6.2" fill="#fff" stroke="#000" stroke-width="1"/>
<rect x="758.6" y="571.9" width="2" height="5.6" fill="#fff" stroke="#000" stroke-width="0.9"/>
<path d="M764,573.1 h1 v-1 h2.4 v1 h1 v3.4 h-1 v1.2 h-2.4 v-1.2 h-1 z" fill="#000"/>
<rect x="750.9" y="585.9" width="5.6" height="6.2" fill="#fff" stroke="#000" stroke-width="1"/>
<rect x="758.6" y="581.3" width="2" height="5.6" fill="#fff" stroke="#000" stroke-width="0.9"/>
<path d="M764,582.5 h1 v-1 h2.4 v1 h1 v3.4 h-1 v1.2 h-2.4 v-1.2 h-1 z" fill="#000"/>
<rect x="750.9" y="595.3" width="5.6" height="6.2" fill="#fff" stroke="#000" stroke-width="1"/>
<rect x="758.6" y="590.7" width="2" height="5.6" fill="#fff" stroke="#000" stroke-width="0.9"/>
<path d="M764,591.9 h1 v-1 h2.4 v1 h1 v3.4 h-1 v1.2 h-2.4 v-1.2 h-1 z" fill="#000"/>
<rect x="758.6" y="600.1" width="2" height="5.6" fill="#fff" stroke="#000" stroke-width="0.9"/>
<path d="M764,601.3 h1 v-1 h2.4 v1 h1 v3.4 h-1 v1.2 h-2.4 v-1.2 h-1 z" fill="#000"/>
<path d="M751.5,607.1 l1.8,-1.8 h1.6 l1.8,1.8" fill="#fff" stroke="#000" stroke-width="1"/>
<rect x="705.00" y="622.00" width="26.00" height="7.00" fill="#000" />
<rect x="706.00" y="623.00" width="1.00" height="5.00" fill="#fff" />
<rect x="711.75" y="623.00" width="1.60" height="5.00" fill="#fff" />
<rect x="717.50" y="623.00" width="1.60" height="5.00" fill="#fff" />
<rect x="723.25" y="623.00" width="1.60" height="5.00" fill="#fff" />
<rect x="729.00" y="623.00" width="1.00" height="5.00" fill="#fff" />
<rect x="725.95" y="624.00" width="1.95" height="3.00" fill="#fff" />
<polygon shape-rendering="geometricPrecision" points="716.63,629.17 705.37,639.45 708.63,642.55 718.37,630.83" fill="#000"/>
<rect x="685.00" y="637.40" width="25.80" height="18.30" rx="4" fill="#000"/>
<rect x="687.40" y="639.60" width="20.80" height="13.50" rx="2.5" fill="#fff"/>
<line shape-rendering="geometricPrecision" x1="712.77" y1="634.95" x2="707.00" y2="641.00" stroke="#fff" stroke-width="0.9"/>
<rect x="12.00" y="74.00" width="6.00" height="14.00" fill="#000" />
<rect x="13.00" y="75.50" width="4.00" height="1.50" fill="#fff" />
<rect x="13.00" y="80.80" width="4.00" height="1.50" fill="#fff" />
<rect x="13.00" y="85.60" width="4.00" height="1.50" fill="#fff" />
<polygon shape-rendering="geometricPrecision" points="14.95,74.40 24.49,65.83 21.51,63.17 14.05,73.60" fill="#000"/>
<rect x="19.60" y="50.60" width="33.30" height="16.70" rx="3.5" fill="#000"/>
<rect x="21.60" y="52.40" width="29.50" height="13.10" rx="2.0" fill="#fff"/>
<line shape-rendering="geometricPrecision" x1="18.32" y1="69.72" x2="23.00" y2="64.50" stroke="#fff" stroke-width="0.9"/>
<rect x="28.00" y="96.00" width="6.00" height="14.00" fill="#000" />
<rect x="29.00" y="97.50" width="4.00" height="1.60" fill="#fff" />
<rect x="29.00" y="102.80" width="4.00" height="1.60" fill="#fff" />
<rect x="29.00" y="107.60" width="4.00" height="1.60" fill="#fff" />
<polygon shape-rendering="geometricPrecision" points="31.46,96.38 42.04,85.77 38.96,83.23 30.54,95.62" fill="#000"/>
<rect x="37.20" y="70.70" width="32.20" height="16.20" rx="1.5" fill="#000"/>
<rect x="39.00" y="72.30" width="29.20" height="13.80" rx="0.5" fill="#fff"/>
<line shape-rendering="geometricPrecision" x1="35.27" y1="90.83" x2="40.50" y2="84.50" stroke="#fff" stroke-width="0.9"/>
<rect x="12.00" y="96.00" width="6.00" height="31.00" fill="#000" />
<rect x="13.00" y="97.00" width="4.00" height="1.30" fill="#fff" />
<rect x="13.00" y="102.00" width="4.00" height="1.30" fill="#fff" />
<rect x="13.00" y="108.40" width="4.00" height="1.30" fill="#fff" />
<rect x="13.00" y="114.00" width="4.00" height="1.30" fill="#fff" />
<rect x="13.00" y="120.00" width="4.00" height="1.30" fill="#fff" />
<rect x="14.00" y="99.00" width="2.00" height="2.20" fill="#fff" />
<polygon shape-rendering="geometricPrecision" points="18.79,112.21 28.09,122.91 30.91,120.09 20.21,110.79" fill="#000"/>
<rect x="26.30" y="118.60" width="33.90" height="16.70" rx="2.5" fill="#000"/>
<rect x="28.80" y="120.60" width="29.60" height="12.70" rx="1.0" fill="#fff"/>
<line shape-rendering="geometricPrecision" x1="24.00" y1="116.00" x2="29.50" y2="121.50" stroke="#fff" stroke-width="0.9"/>
<rect x="12.00" y="143.00" width="13.00" height="7.00" fill="#000" />
<rect x="13.00" y="144.00" width="11.00" height="1.00" fill="#fff" />
<rect x="18.00" y="144.00" width="1.00" height="5.00" fill="#fff" />
<polygon shape-rendering="geometricPrecision" points="25.82,147.09 31.64,155.18 34.36,152.82 27.18,145.91" fill="#000"/>
<rect x="30.50" y="150.60" width="41.50" height="15.70" rx="2.5" fill="#000"/>
<rect x="33.00" y="153.00" width="36.60" height="11.30" rx="1.0" fill="#fff"/>
<rect x="12.00" y="171.00" width="26.00" height="7.00" fill="#000" />
<rect x="13.00" y="172.00" width="1.00" height="5.00" fill="#fff" />
<rect x="18.75" y="172.00" width="1.60" height="5.00" fill="#fff" />
<rect x="24.50" y="172.00" width="1.60" height="5.00" fill="#fff" />
<rect x="30.25" y="172.00" width="1.60" height="5.00" fill="#fff" />
<rect x="36.00" y="172.00" width="1.00" height="5.00" fill="#fff" />
<rect x="32.95" y="173.00" width="1.95" height="3.00" fill="#fff" />
<polygon shape-rendering="geometricPrecision" points="23.63,178.83 33.55,190.38 36.45,187.62 25.37,177.17" fill="#000"/>
<rect x="32.00" y="184.30" width="33.00" height="16.90" rx="1.5" fill="#000"/>
<rect x="34.20" y="186.80" width="28.80" height="14.20" rx="0.5" fill="#fff"/>
<line shape-rendering="geometricPrecision" x1="29.23" y1="182.95" x2="35.00" y2="189.00" stroke="#fff" stroke-width="0.9"/>
<rect x="173.00" y="275.00" width="14.00" height="7.00" fill="#000" />
<rect x="174.00" y="276.00" width="1.00" height="5.00" fill="#fff" />
<rect x="179.50" y="276.00" width="1.60" height="5.00" fill="#fff" />
<rect x="185.00" y="276.00" width="1.00" height="5.00" fill="#fff" />
<polygon shape-rendering="geometricPrecision" points="180.50,275.02 183.70,255.09 176.70,254.91 178.90,274.98" fill="#000"/>
<rect x="163.50" y="240.30" width="33.50" height="18.50" rx="4.5" fill="#000"/>
<rect x="165.30" y="242.10" width="29.50" height="14.50" rx="3.0" fill="#fff"/>
<line shape-rendering="geometricPrecision" x1="179.92" y1="266.00" x2="180.20" y2="255.00" stroke="#fff" stroke-width="1.3"/>
<rect x="167.00" y="293.00" width="20.00" height="6.00" fill="#000" />
<rect x="168.00" y="294.00" width="1.00" height="4.00" fill="#fff" />
<rect x="173.67" y="294.00" width="1.60" height="4.00" fill="#fff" />
<rect x="179.33" y="294.00" width="1.60" height="4.00" fill="#fff" />
<rect x="185.00" y="294.00" width="1.00" height="4.00" fill="#fff" />
<rect x="182.03" y="295.00" width="1.87" height="2.00" fill="#fff" />
<polygon shape-rendering="geometricPrecision" points="167.83,295.28 158.16,282.55 154.84,285.45 166.17,296.72" fill="#000"/>
<rect x="128.00" y="270.80" width="32.10" height="17.40" rx="2" fill="#000"/>
<rect x="128.20" y="272.60" width="29.70" height="13.40" rx="0.5" fill="#fff"/>
<line shape-rendering="geometricPrecision" x1="162.28" y1="290.60" x2="156.50" y2="284.00" stroke="#fff" stroke-width="0.9"/>
<rect x="167.00" y="311.00" width="20.00" height="7.00" fill="#000" />
<rect x="168.00" y="312.00" width="18.00" height="5.00" fill="#fff" />
<rect x="169.00" y="312.00" width="4.00" height="4.00" fill="#000" />
<rect x="175.00" y="312.00" width="4.00" height="4.00" fill="#000" />
<rect x="181.00" y="312.00" width="4.00" height="4.00" fill="#000" />
<rect x="182.20" y="313.00" width="1.60" height="2.00" fill="#fff" />
<polygon shape-rendering="geometricPrecision" points="188.31,316.24 200.84,304.69 197.16,301.31 186.69,314.76" fill="#000"/>
<rect x="194.60" y="289.50" width="33.50" height="18.40" rx="4.5" fill="#000"/>
<rect x="196.70" y="291.50" width="29.00" height="14.00" rx="3.0" fill="#fff"/>
<line shape-rendering="geometricPrecision" x1="192.68" y1="309.88" x2="199.00" y2="303.00" stroke="#fff" stroke-width="0.9"/>
<rect x="173.00" y="329.00" width="14.00" height="7.00" fill="#000" />
<rect x="174.00" y="330.00" width="12.00" height="5.00" fill="#fff" />
<rect x="175.00" y="330.00" width="4.00" height="4.00" fill="#000" />
<rect x="181.00" y="330.00" width="4.00" height="4.00" fill="#000" />
<polygon shape-rendering="geometricPrecision" points="187.64,333.49 205.74,332.98 204.26,325.62 187.36,332.11" fill="#000"/>
<rect x="201.40" y="320.40" width="35.50" height="17.80" rx="4.5" fill="#000"/>
<rect x="203.50" y="322.40" width="31.00" height="13.40" rx="3.0" fill="#fff"/>
<line shape-rendering="geometricPrecision" x1="195.38" y1="331.23" x2="205.00" y2="329.30" stroke="#fff" stroke-width="1.3"/>
<rect x="271.00" y="193.00" width="19.00" height="7.00" fill="#000" />
<rect x="277.33" y="194.00" width="1.60" height="5.00" fill="#fff" />
<rect x="282.67" y="194.00" width="1.60" height="5.00" fill="#fff" />
<rect x="288.00" y="194.00" width="1.00" height="5.00" fill="#fff" />
<rect x="285.37" y="195.00" width="1.53" height="3.00" fill="#fff" />
<polygon shape-rendering="geometricPrecision" points="271.00,195.60 251.50,192.30 251.50,200.30 271.00,197.00" fill="#000"/>
<rect x="219.60" y="187.20" width="35.30" height="18.50" rx="4.5" fill="#000"/>
<rect x="221.70" y="189.90" width="30.80" height="13.10" rx="3.0" fill="#fff"/>
<line shape-rendering="geometricPrecision" x1="262.23" y1="196.30" x2="251.50" y2="196.30" stroke="#fff" stroke-width="1.4"/>
<rect x="384.00" y="52.00" width="14.00" height="7.00" fill="#000" />
<rect x="385.00" y="53.00" width="1.00" height="5.00" fill="#fff" />
<rect x="390.50" y="53.00" width="1.60" height="5.00" fill="#fff" />
<rect x="396.00" y="53.00" width="1.00" height="5.00" fill="#fff" />
<polygon shape-rendering="geometricPrecision" points="390.58,58.22 378.78,70.55 382.22,73.45 392.42,59.78" fill="#000"/>
<rect x="350.20" y="68.40" width="35.00" height="16.60" rx="3" fill="#000"/>
<rect x="352.60" y="69.70" width="30.00" height="12.70" rx="1.5" fill="#fff"/>
<line shape-rendering="geometricPrecision" x1="386.55" y1="64.85" x2="380.50" y2="72.00" stroke="#fff" stroke-width="0.9"/>
<rect x="120.00" y="312.00" width="14.00" height="7.00" fill="#000" />
<rect x="121.00" y="313.00" width="1.00" height="5.00" fill="#fff" />
<rect x="126.50" y="313.00" width="1.60" height="5.00" fill="#fff" />
<rect x="132.00" y="313.00" width="1.00" height="5.00" fill="#fff" />
<polygon shape-rendering="geometricPrecision" points="120.00,314.80 101.50,311.50 101.50,319.50 120.00,316.20" fill="#000"/>
<rect x="63.00" y="305.80" width="41.60" height="18.80" rx="4.5" fill="#000"/>
<rect x="65.10" y="307.80" width="37.10" height="14.40" rx="3.0" fill="#fff"/>
<line shape-rendering="geometricPrecision" x1="111.67" y1="315.50" x2="101.50" y2="315.50" stroke="#fff" stroke-width="1.4"/>
<rect x="115.00" y="322.00" width="19.00" height="6.00" fill="#000" />
<rect x="121.33" y="323.00" width="1.60" height="4.00" fill="#fff" />
<rect x="126.67" y="323.00" width="1.60" height="4.00" fill="#fff" />
<rect x="132.00" y="323.00" width="1.00" height="4.00" fill="#fff" />
<rect x="129.37" y="324.00" width="1.53" height="2.00" fill="#fff" />
<polygon shape-rendering="geometricPrecision" points="122.87,327.51 111.81,339.02 115.19,341.98 125.13,329.49" fill="#000"/>
<rect x="75.30" y="337.20" width="41.50" height="18.30" rx="4.5" fill="#000"/>
<rect x="77.40" y="339.20" width="37.00" height="13.90" rx="3.0" fill="#fff"/>
<rect x="54.00" y="354.00" width="14.00" height="7.00" fill="#000" />
<rect x="55.00" y="355.00" width="12.00" height="5.00" fill="#fff" />
<rect x="56.00" y="355.00" width="4.00" height="4.00" fill="#000" />
<rect x="62.00" y="355.00" width="4.00" height="4.00" fill="#000" />
<polygon shape-rendering="geometricPrecision" points="60.28,353.88 51.22,340.63 47.78,343.37 58.72,355.12" fill="#000"/>
<rect x="11.10" y="327.00" width="41.70" height="18.70" rx="4" fill="#000"/>
<rect x="13.90" y="329.80" width="36.80" height="13.80" rx="2.5" fill="#fff"/>
<line shape-rendering="geometricPrecision" x1="55.00" y1="348.88" x2="49.50" y2="342.00" stroke="#fff" stroke-width="0.9"/>
<rect x="126.00" y="376.00" width="14.00" height="7.00" fill="#000" />
<rect x="127.00" y="377.00" width="12.00" height="5.00" fill="#fff" />
<rect x="128.00" y="377.00" width="4.00" height="4.00" fill="#000" />
<rect x="134.00" y="377.00" width="4.00" height="4.00" fill="#000" />
<polygon shape-rendering="geometricPrecision" points="126.00,378.80 107.50,375.50 107.50,383.50 126.00,380.20" fill="#000"/>
<rect x="73.90" y="370.40" width="35.90" height="18.00" rx="4.5" fill="#000"/>
<rect x="76.00" y="372.40" width="31.40" height="13.60" rx="3.0" fill="#fff"/>
<line shape-rendering="geometricPrecision" x1="117.67" y1="379.50" x2="107.50" y2="379.50" stroke="#fff" stroke-width="1.4"/>
<g opacity="0.999"><text transform="translate(98.40,57.30) scale(0.76,1)" font-size="14" text-anchor="middle" fill="#000" stroke="#000" stroke-width="0.15" textLength="92.1" lengthAdjust="spacing" >BIOS/EVEN</text>
<text transform="translate(195.80,57.30) scale(0.76,1)" font-size="14" text-anchor="middle" fill="#000" stroke="#000" stroke-width="0.15" textLength="85.5" lengthAdjust="spacing" >BIOS/ODD</text>
<text transform="translate(313.60,57.60) scale(0.76,1)" font-size="14" text-anchor="middle" fill="#000" stroke="#000" stroke-width="0.15" textLength="31.6" lengthAdjust="spacing" >KBD</text>
<text transform="translate(87.40,139.30) scale(0.76,1)" font-size="14" text-anchor="middle" fill="#000" stroke="#000" stroke-width="0.15" textLength="34.2" lengthAdjust="spacing" >NPU</text>
<text transform="translate(79.30,250.60) scale(0.76,1)" font-size="14" text-anchor="middle" fill="#000" stroke="#000" stroke-width="0.15" textLength="35.5" lengthAdjust="spacing" >CPU</text>
<text transform="translate(179.60,356.65) scale(0.76,1)" font-size="14" text-anchor="middle" fill="#000" stroke="#000" stroke-width="0.15" textLength="29.6" lengthAdjust="spacing" >U63</text>
<text transform="translate(190.95,385.40) scale(0.76,1)" font-size="14" text-anchor="middle" fill="#000" stroke="#000" stroke-width="0.15" textLength="29.6" lengthAdjust="spacing" >U62</text>
<text transform="translate(254.00,370.40) scale(0.76,1)" font-size="14" text-anchor="middle" fill="#000" stroke="#000" stroke-width="0.15" textLength="32.2" lengthAdjust="spacing" >TAG</text>
<text transform="translate(106.40,454.70) scale(0.76,1)" font-size="14" text-anchor="middle" fill="#000" stroke="#000" stroke-width="0.15" >B</text>
<text transform="translate(106.40,470.50) scale(0.76,1)" font-size="14" text-anchor="middle" fill="#000" stroke="#000" stroke-width="0.15" >A</text>
<text transform="translate(106.40,485.20) scale(0.76,1)" font-size="14" text-anchor="middle" fill="#000" stroke="#000" stroke-width="0.15" >N</text>
<text transform="translate(106.40,499.90) scale(0.76,1)" font-size="14" text-anchor="middle" fill="#000" stroke="#000" stroke-width="0.15" >K</text>
<text transform="translate(106.40,515.10) scale(0.76,1)" font-size="14" text-anchor="middle" fill="#000" stroke="#000" stroke-width="0.15" >0</text>
<text transform="translate(202.30,477.80) scale(0.76,1)" font-size="14" text-anchor="middle" fill="#000" stroke="#000" stroke-width="0.15" >B</text>
<text transform="translate(202.30,493.40) scale(0.76,1)" font-size="14" text-anchor="middle" fill="#000" stroke="#000" stroke-width="0.15" >A</text>
<text transform="translate(202.30,508.00) scale(0.76,1)" font-size="14" text-anchor="middle" fill="#000" stroke="#000" stroke-width="0.15" >N</text>
<text transform="translate(202.30,523.20) scale(0.76,1)" font-size="14" text-anchor="middle" fill="#000" stroke="#000" stroke-width="0.15" >K</text>
<text transform="translate(202.30,538.20) scale(0.76,1)" font-size="14" text-anchor="middle" fill="#000" stroke="#000" stroke-width="0.15" >1</text>
<text transform="translate(289.85,502.25) scale(0.76,1)" font-size="14" text-anchor="middle" fill="#000" stroke="#000" stroke-width="0.15" textLength="58.4" lengthAdjust="spacing" >CACHE</text>
<text transform="translate(454.80,500.80) scale(0.76,1)" font-size="14" text-anchor="middle" fill="#000" stroke="#000" stroke-width="0.15" textLength="61.2" lengthAdjust="spacing" >BANK 0</text>
<text transform="translate(529.80,500.80) scale(0.76,1)" font-size="14" text-anchor="middle" fill="#000" stroke="#000" stroke-width="0.15" textLength="61.2" lengthAdjust="spacing" >BANK 1</text>
<text transform="translate(604.80,500.80) scale(0.76,1)" font-size="14" text-anchor="middle" fill="#000" stroke="#000" stroke-width="0.15" textLength="61.2" lengthAdjust="spacing" >BANK 2</text>
<text transform="translate(679.80,500.80) scale(0.76,1)" font-size="14" text-anchor="middle" fill="#000" stroke="#000" stroke-width="0.15" textLength="61.2" lengthAdjust="spacing" >BANK 3</text>
<text transform="translate(733.60,468.10) scale(0.76,1)" font-size="14" text-anchor="middle" fill="#000" stroke="#000" stroke-width="0.15" textLength="32.9" lengthAdjust="spacing" >JP1</text>
<text transform="translate(697.80,650.65) scale(0.76,1)" font-size="14" text-anchor="middle" fill="#000" stroke="#000" stroke-width="0.15" textLength="17.1" lengthAdjust="spacing" >J4</text>
<text transform="translate(36.35,63.25) scale(0.76,1)" font-size="14" text-anchor="middle" fill="#000" stroke="#000" stroke-width="0.15" textLength="33.6" lengthAdjust="spacing" >SW1</text>
<text transform="translate(53.60,83.50) scale(0.76,1)" font-size="14" text-anchor="middle" fill="#000" stroke="#000" stroke-width="0.15" textLength="33.6" lengthAdjust="spacing" >SW2</text>
<text transform="translate(43.60,131.25) scale(0.76,1)" font-size="14" text-anchor="middle" fill="#000" stroke="#000" stroke-width="0.15" textLength="26.3" lengthAdjust="spacing" >J22</text>
<text transform="translate(51.30,162.95) scale(0.76,1)" font-size="14" text-anchor="middle" fill="#000" stroke="#000" stroke-width="0.15" textLength="38.2" lengthAdjust="spacing" >JP13</text>
<text transform="translate(48.60,197.60) scale(0.76,1)" font-size="14" text-anchor="middle" fill="#000" stroke="#000" stroke-width="0.15" textLength="28.9" lengthAdjust="spacing" >J21</text>
<text transform="translate(180.05,253.65) scale(0.76,1)" font-size="14" text-anchor="middle" fill="#000" stroke="#000" stroke-width="0.15" textLength="28.9" lengthAdjust="spacing" >JP8</text>
<text transform="translate(143.05,283.60) scale(0.76,1)" font-size="14" text-anchor="middle" fill="#000" stroke="#000" stroke-width="0.15" textLength="28.9" lengthAdjust="spacing" >JP7</text>
<text transform="translate(211.20,302.80) scale(0.76,1)" font-size="14" text-anchor="middle" fill="#000" stroke="#000" stroke-width="0.15" textLength="28.9" lengthAdjust="spacing" >JP6</text>
<text transform="translate(219.00,333.40) scale(0.76,1)" font-size="14" text-anchor="middle" fill="#000" stroke="#000" stroke-width="0.15" textLength="28.9" lengthAdjust="spacing" >JP5</text>
<text transform="translate(237.10,200.75) scale(0.76,1)" font-size="14" text-anchor="middle" fill="#000" stroke="#000" stroke-width="0.15" textLength="28.9" lengthAdjust="spacing" >JP4</text>
<text transform="translate(367.60,79.75) scale(0.76,1)" font-size="14" text-anchor="middle" fill="#000" stroke="#000" stroke-width="0.15" textLength="28.9" lengthAdjust="spacing" >JP2</text>
<text transform="translate(83.65,319.30) scale(0.76,1)" font-size="14" text-anchor="middle" fill="#000" stroke="#000" stroke-width="0.15" textLength="38.8" lengthAdjust="spacing" >JP11</text>
<text transform="translate(95.90,350.45) scale(0.76,1)" font-size="14" text-anchor="middle" fill="#000" stroke="#000" stroke-width="0.15" textLength="38.8" lengthAdjust="spacing" >JP10</text>
<text transform="translate(32.30,341.00) scale(0.76,1)" font-size="14" text-anchor="middle" fill="#000" stroke="#000" stroke-width="0.15" textLength="38.2" lengthAdjust="spacing" >JP12</text>
<text transform="translate(91.70,383.50) scale(0.76,1)" font-size="14" text-anchor="middle" fill="#000" stroke="#000" stroke-width="0.15" textLength="28.9" lengthAdjust="spacing" >JP9</text></g>
</svg>
</body></html>
